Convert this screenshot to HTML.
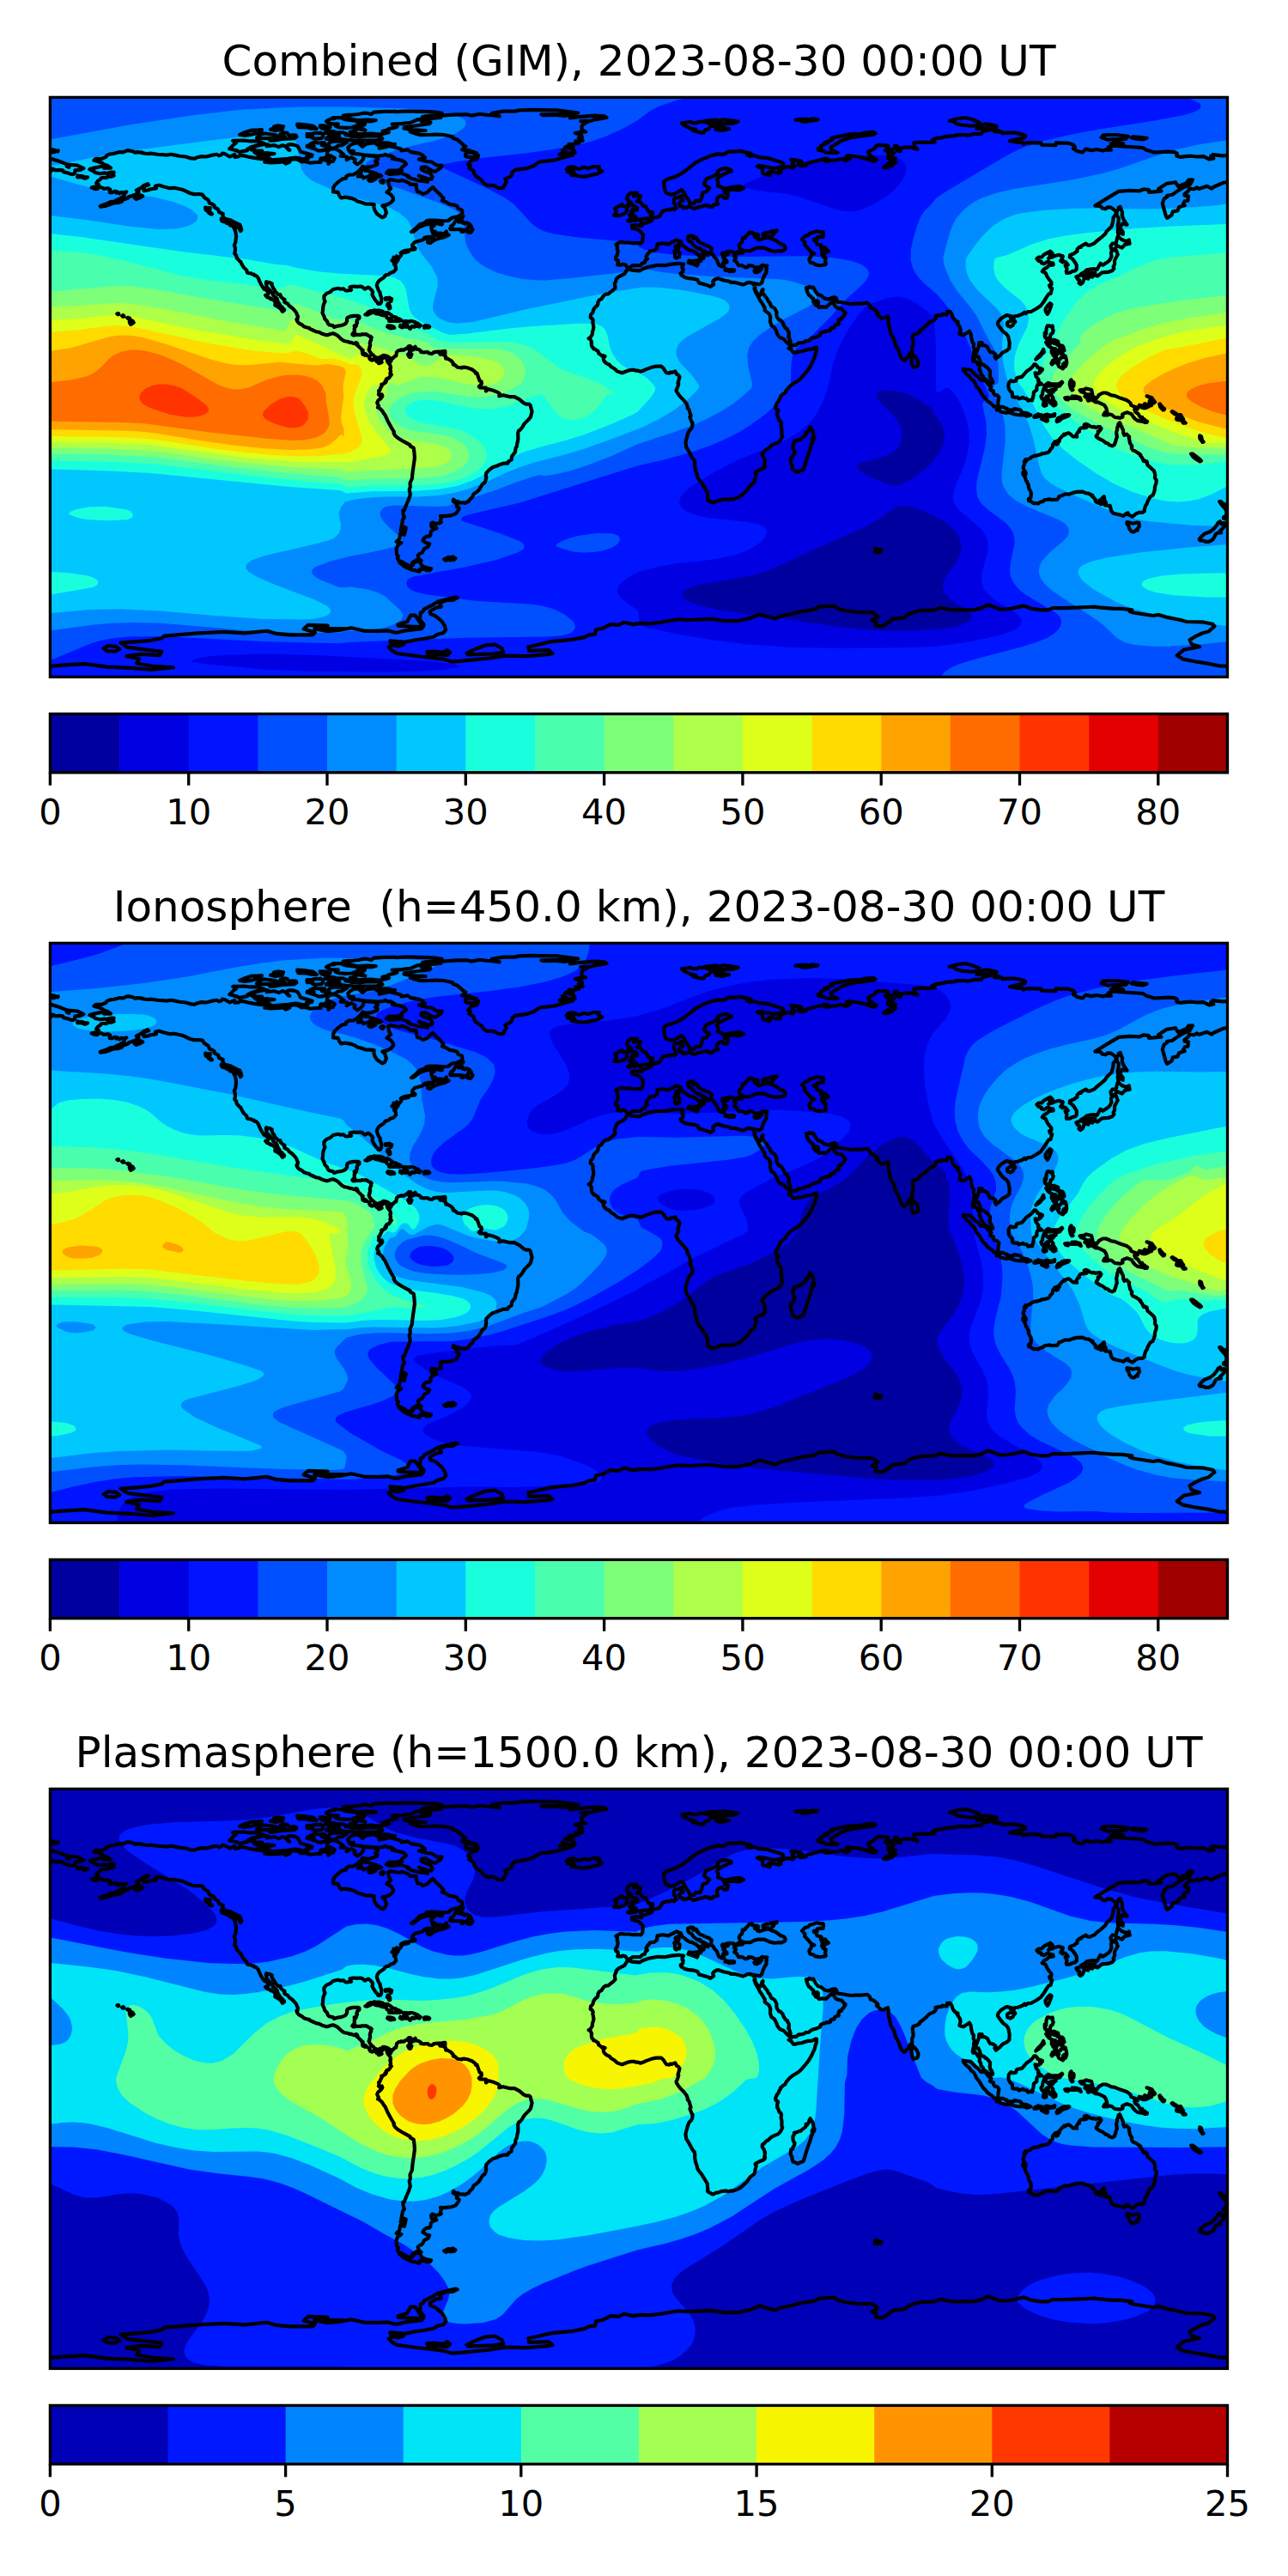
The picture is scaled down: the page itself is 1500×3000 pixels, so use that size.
<!DOCTYPE html>
<html><head><meta charset="utf-8"><title>TEC maps</title>
<style>html,body{margin:0;padding:0;background:#fff}svg{display:block}text{font-family:"DejaVu Sans","Liberation Sans",sans-serif;fill:#000}.t{font-size:50px;text-anchor:middle}.k{font-size:41.67px;text-anchor:middle}.f{fill:none;stroke:#000;stroke-width:3.33;stroke-linejoin:miter}.c{fill:none;stroke:#000;stroke-width:4.17;stroke-linejoin:round;stroke-linecap:round}.tk{stroke:#000;stroke-width:3.33}</style></head><body>
<svg width="1500" height="3000" viewBox="0 0 1500 3000">
<rect width="1500" height="3000" fill="#fff"/>
<defs><clipPath id="cp"><rect x="58.4" y="113.4" width="1371.1" height="675.0"/></clipPath>
<g id="coast"><path class="c" d="M730.8,312.6 735.8,314.6 745.1,315.3 749,313 755.5,310.7 766,308.8 774.1,309.2 781.8,307.6 790.3,306.8 793,307.2 796.1,307.6 794.5,310.3 794.5,312.2 795.7,313 795.3,316.5 792.6,318.4 793.4,320.4 796.5,322.3 798,323.1 802.7,324.2 807.3,324.6 812.3,326.1 814.2,329.6 817.7,330.4 823.1,331.9 827.4,333.9 831.2,331.2 830.1,328.1 831.2,326.5 834.3,324.6 836.6,324.2 843.2,326.5 849.8,327.7 850.9,328.9 856,328.9 859.8,330 865.2,331.6 868.3,330.4 869.9,329.2 873.3,328.9 876,329.6 877.2,331.2 878.4,330M879.5,335 878.4,335.8 879.9,340.1 882.2,343.9 885.3,350.1 886.9,352 890.7,358.6 890.7,361.7 895.4,365.2 896.1,365.9 897.3,369.8 896.9,374.4 898.4,379.1 901.9,381.4 904.2,386 905.4,389.5 908.1,393 912.7,394.9 917,399.5 920.1,401.8 920.8,403 920.8,404.7 918.5,405.7 920.1,406.5 921.6,407.3 923.9,410.7 925.9,410.7 929.7,409.6 933.6,409.2 937.1,408 939,407.6 940.5,406.9 942.5,406.9 944,406.9 947.9,405.7 949.4,404.6 951,404.6 951,405.7 950.6,410 949.8,411.1 949,415.4 947.1,419.6 944.8,424.6 941.3,430.4 937.8,434.7 933.6,439.7 929.7,443.2 923.9,446.7 920.1,449.7 915.8,454.4 915,456.3 914.3,457.5 911.6,459 910.4,460.6 909.3,460.9 908.5,463.6 907.3,465.2 906.6,467.5 905,469.1 903.1,473.7 903.5,476 905.8,477.2 906.2,478.3 905,480.6 905.4,481.8 905,483.7 906.2,486 907.7,489.9 909.3,490.7 910,492.6 909.6,496.5 910.4,499.6 910.4,505.7 911.2,507.7 910,510.4 908.5,513.1 906.2,515.4 902.3,516.9 898.1,518.9 893.8,523.1 892.3,523.5 889.6,526.6 888,527.4 887.6,530.1 889.6,533.2 890.3,535.1 890.3,536.3 891.1,536.3 890.7,540.1 890.3,541.7 891.1,542.4 890.7,544 888.8,545.5 885.7,546.7 881.1,549 879.5,550.2 879.9,551.7 880.7,552.1 880.3,554 879.5,557.1 879.1,560.2 878,562.1 875.3,564.1 874.5,564.5 872.9,566.4 871.8,568.3 869.9,571 865.2,575.3 862.5,577.6 859.8,579.1 855.6,580.7 853.6,581.1 853.3,581.8 850.9,581.4 849,582.2 844.8,581.4 842.4,581.8 840.9,581.8 836.6,583.4 833.6,583.8 831.2,585.3 829.3,585.3 827.8,584.1 826.6,583.8 824.7,582.2 824.7,582.6 823.9,581.8 824.3,579.5 823.9,576 823.9,573.3 821.6,569.5 819.7,566.4 819.7,566.4 816.6,561.4 813.9,558.3 812.3,555.6 811.5,551.7 810.4,549 809.2,543.2 809.2,538.6 808.8,536.3 807.3,534.7 805.4,531.6 803,527 800.7,523.1 799.2,520.8 798.8,517.7 798.4,515.4 799.2,511.9 800.3,508.4 800.7,506.5 801.9,503 802.7,501.5 805,499.2 806.1,497.2 806.5,494.5 806.5,492.2 805.4,491.1 803.4,485.7 803.4,485.5 804.6,484.1 803.4,480.3 802.7,477.5 800.7,475.2 801.1,474.5 800.7,473.3 799.6,470.2 796.5,466.3 792.6,462.4 789.9,459 787.6,455.1 787.6,454 788.4,452.8 789.5,449.7 790.3,447 789.5,446.3 790.7,442 791.5,438.9 789.9,436.6 788,435.8 787.2,433.9 786.4,433.5 786.4,432.4 782.6,433.9 781,433.5 779.5,434.7 776.4,434.3 774.5,432 772.9,429.3 770.2,426.6 767.5,426.6 764,426.6 760.9,427.3 757.9,428.1 751.7,430.4 749.4,431.6 746,432.7 742.4,431.6 740.9,431.7 738.2,430.8 735.8,430.8 731.2,431.6 728.5,432.7 724.6,434.3 723.9,433.9 722.8,433.9 718.8,432.4 715.4,429.3 711.9,427.3 709.6,424.6 708.4,424.3 705.7,422.7 703.8,420.8 703,419.2 702.6,416.5 704.6,415 702.6,414.2 700.7,414.2 699.1,412.7 698.4,412.3 697.2,411.5 696.8,409.6 696.4,408.8 695.3,408.4 693,406.5 691.4,406.5 690.7,405.3 690.7,404.7 689.5,403.8 689.1,403 688.7,399.9 689.1,398.4 687.6,395.3 685.6,394.1 687.2,393.4 689.1,390.6 689.9,388.7 689.9,386.4 690.7,384.5 691.4,381 690.7,377.1 690.3,375.2 690.7,373.3 689.9,371.3 687.6,369.8 688.1,366.3 689.5,365.2 690.7,363.2 690.7,362.1 691.9,359.4 694.1,356.7 695.3,356.3 696.4,354 696.4,352 698,349.3 700.3,348.2 703,344.3 704.9,342.8 708.4,342.4 711.5,339.7 713.4,338.5 716.5,335.4 715.8,330.4 717.3,327.3 717.7,325 720,322.7 723.9,320.7 727,319.2 729.7,315.3 730.8,312.6M944.8,499.2 945.9,500.7 947.1,503.4 947.5,508.1 948.6,509.6 948.3,511.5 947.5,512.7 946.3,510.4 945.6,511.5 946.3,514.6 945.9,516.2 944.8,516.9 944.4,520.2 942.9,524.7 940.9,530.1 938.6,537.4 937.1,542.8 935.5,547.1 932.4,548.2 929,549.8 926.6,548.6 923.5,547.5 922.8,545.5 922.4,542 920.8,539 920.8,536.3 921.2,533.2 923.2,532.8 923.2,531.2 925.1,528.5 925.5,525.8 924.3,524.1 923.5,521.6 923.4,518.1 924.7,516.2 925.1,513.5 927,513.5 929.3,512.6 930.9,511.9 932.4,511.9 934.7,509.6 937.8,507.3 939,505.4 938.6,503.8 940.2,504.2 942.1,501.5 942.5,499.2 943.6,497.2 944.8,499.2M454.7,417.3 457,417.7 459.7,415 461.2,414.6 462,410 464.3,408 466.6,408 467,407.3 470.1,407.6 473.2,405.7 474.8,404.7 476.3,403 477.8,403 479,404.2 478.2,405.3 475.6,406.1 477.1,408.5 477.1,410.7 475.1,412.7 476.7,415.8 478.2,415.8 479.4,412.7 477.8,411.5 477.8,408.6 482.5,406.9 482.1,405.3 483.6,403.8 484.8,406.5 487.5,406.9 490.2,408.8 490.2,410 493.7,410.3 497.9,410 499.9,411.5 502.9,411.9 505.3,410.7 505.3,410 509.9,409.6 514.5,409.6 511.4,410.7 512.6,412.7 515.7,412.7 518.8,414.6 519.2,417.7 521.1,417.7 522.6,418.5 525.3,420 527.7,422.7 527.7,424.6 529.2,424.6 531.5,426.6 533.1,427.8 537.7,428.5 538.1,427.9 541.2,427.7 545.2,428.5 546.6,429.3 549.3,430 553.5,433.1 553.9,434.7 555.5,434.7 556.2,436.6 558.6,443.6 560.6,444.3 560.9,447 557.8,450.1 558.9,451.3 565.9,451.7 565.9,455.5 569,453.2 573.6,454.4 580.2,457.1 582.1,459 581.3,461.3 586,460.2 593.3,462.1 599.2,462.1 604.9,465.2 609.9,469.4 612.6,470.6 616.1,470.6 617.7,472.1 618.8,476.8 619.6,479.1 618,485.6 616.1,488 610.7,493.4 608,498 605.3,501.1 604.1,501.5 603.2,504.2 603.4,511.5 602.2,517.3 601.8,520 600.7,521.6 599.9,526.6 596,531.6 595.6,535.5 592.2,537.4 591.4,539.6 587.1,539.6 581.3,541.3 578.3,542.8 574,544 569.8,547.1 566.3,550.9 565.9,553.6 566.3,556 565.5,559.8 564.7,561.7 562,563.7 557.8,570.6 554.3,573.7 551.6,575.3 550.1,579.1 547.4,581.4 545.8,583.8 541.6,585.9 538.5,585.3 536.5,585.7 533.1,583.8 530.4,584.1 528.1,581.8 527.7,583.8 532.7,587.2 531.9,589.9 534.6,591.5 534.2,593.4 530.8,598.4 525,600.4 517.2,601.1 513,600.8 513.8,603.1 513,606.2 513.8,608.1 511.4,609.3 507.2,610 503.7,608.5 502.2,609.6 502.6,613.5 505.3,614.7 507.2,613.1 508.4,615.4 504.9,616.6 501.8,618.9 501.4,622.8 500.2,624.7 496.8,624.7 493.7,627 492.5,629.7 496.4,632.4 500.2,633.2 498.7,636.7 494.1,639 491.7,643.6 488.3,645.2 486.7,646.7 487.9,651 490.6,652.9 488.7,652.9 485.2,652.1 480.2,655.2 479.4,658.7 477.8,659.1 473.2,657.5 469,654.8 464.3,652.9 462.8,650.2 464,647.9 462,645.6 461.6,639 463.2,635.1 467.4,632 461.6,630.9 465.1,627.8 466.3,621.2 470.9,622.8 472.8,614.7 470.1,613.5 469,618.5 466.6,617.7 467.8,612.3 469,605 470.9,602.7 469.7,598.8 469.3,594.6 470.9,594.2 473.2,588 475.9,581.8 477.8,576 476.7,570.2 477.8,567.2 477.5,562.5 479.8,557.5 480.5,550.2 481.7,542 482.9,533.6 482.5,527.4 481.7,521.6 477.8,519.6 477.5,518.1 470.1,514.2 463.2,510 460.1,507.3 458.5,504.2 458.9,503 455.8,498 452,491.1 448.5,483.3 446.9,481.4 445.4,478.7 442.7,476 440,474.5 441.1,472.9 439.2,469.1 440.4,466.3 443.5,464 445.4,461.3 444.7,459.4 443.1,461.3 440.9,459.4 441.5,458.5 441.1,455.1 442.3,454.4 443.1,452.1 444.6,449.4 444.2,447.8 446.6,447 448.9,445.5 448.5,444.3 450,443.9 449.6,442 450.8,440.9 452.7,440.5 454.3,438.2 455.8,436.2 454.3,435.1 455.1,432.7 454.3,429.3 455.1,428.5 454.3,425 452.7,423.1 453.1,421.2 454.7,421.5 455.4,420.4 454.3,418.1 454.7,417.3M488.7,654.1 489.8,656 491.7,659.1 496.8,661.4 502.2,662.2 500.6,664.1 496.8,664.5 495,662.9 492.5,662.9 488.7,662.9 488.7,665.6 486.3,665.3 483.4,664.1 479.4,663.7 474.4,661.4 470.5,659.3 465.1,654.8 468.6,655.6 474,658.3 479,659.8 480.9,657.9 482.1,655.2 486,653.7 488.7,654.1M517.2,651.4 521.9,649 525,649.4 527.3,648.3 530.4,650.2 529.2,651.7 524.2,652.5 522.3,651.4 519.2,652.9 517.2,651.4M452.7,423.1 451.6,421.9 450.8,419.8 451.6,418.8 450.8,418.5 450,417.3 448.1,416.1 446.2,416.5 445.4,417.7 443.9,418.8 443.1,418.8 442.7,419.6 444.6,421.9 443.5,422.3 443.1,422.7 441.1,423.1 440.4,420.8 440,421.5 438.8,421.2 438.1,419.6 436.5,419.2 435.4,418.8 433.8,418.8 433.4,419.6 431.1,418.5 430.3,417.3 430.7,416.9 430.7,415.8 429.6,415 428,414.2 426.9,413.8 426.5,412.7 425.3,411.9 425.7,413 424.9,413.8 424.2,413 422.6,412.7 422.2,411.9 422.2,410.7 422.6,409.2 421.8,408.8 422.6,408 419.5,405.3 416.8,402.6 414.9,401.1 415.3,400.3 416,401.1 416.4,400.8 415.7,399.5 414.5,399.1 414.1,400.3 411.8,399.9 410.6,399.5 408.7,398.8 406.8,398.8 405.6,398 401.4,397.2 399.4,396.4 397.5,394.9 392.9,390.6 390.9,389.5 387.9,388.3 385.5,388.7 382.4,389.9 380.5,390.3 377.8,389.5 375.1,388.7 371.6,386.8 368.5,386.4 364.3,384.5 360.8,382.9 360,381.8 357.7,381.5 353.9,380.2 352.3,378.7 348.1,376.4 346.1,374 345.4,372.1 346.5,371.7 346.1,370.6 346.9,369.4 346.9,368.2 345.8,366.3 345.4,364.8 344.2,362.8 340.7,359 336.9,356.3 334.9,353.6 331.5,352 331.1,351.3 331.5,348.9 329.5,347.8 327.2,345.8 326.4,343.1 324.1,343.1 321.8,340.8 320.3,339.1 319.9,337.7 317.9,335 316.4,331.9 316.8,330.4 313.7,328.9 312.5,329.2 310.2,328.1 309.8,329.6 310.2,331.6 310.6,334.3 312.2,336 314.9,338.5 315.6,339.7 316,339.9 316.8,341.2 317.3,341.2 317.9,343.5 319.1,344.7 320.3,345.8 322.6,347.8 323.7,351.6 324.9,353.2 326.1,355.1 326.1,357 328,357 329.5,359 331.1,360.5 331.1,361.3 329.1,362.8 328.8,362.8 327.6,360.5 325.1,358.2 322.2,356.3 320.3,355.5 320.6,352.4 319.9,350.5 317.9,349.3 315.2,347.4 314.9,348.2 314.1,347 311.4,346.2 309.1,343.9 309.5,343.5 311,343.9 312.5,342.4 312.5,340.4 309.8,337.7 307.5,336.6 306,334.3 304.4,331.9 302.9,328.9 301.3,325.4 300.6,323.4 298.2,321.1 296.3,320.7 295.9,319.6 293.6,319.2 292.5,318.4 288.6,318 287.8,317.3 287.4,314.9 283.6,311.1 280.5,305.7 280.5,304.9 278.7,303.7 275.8,300.5 275.1,297.2 273.1,295.3 273.9,292.2 273.9,288.7 272.8,285.6 274.3,282.1 275.1,275.2 274.3,269.8 273.1,266.7 272,264.7 272.4,264 278.2,265.5 280.1,269 281.3,267.8 280.5,264.7 279.3,261.6 278.7,261.6 271.2,257.9 268.5,256.2 261.6,254.7 259.3,251.2 259.8,248.9 255,247 254.2,243.9 249.6,241.2 249.6,239.2 247.3,237.7 243.9,236.5 242.6,233.1 238,230 235.7,226.5 232.2,226.1 226,226.1 221.4,225 213.3,221.1 209.8,220.3 202.8,218.8 197.6,219.2 190.1,217.2 185.5,215.7 181.2,216.5 182,219.2 179.7,219.6 175.4,220.3 172,221.5 167.7,222.3 166.9,220.3 168.9,216.5 173.1,215.3 172,214.1 166.9,216.5 164.2,218.8 158.8,221.5 161.5,223.4 158,226.5 153.8,228 149.9,229.2 148.8,230.8 143,232.7 141.8,234.7 137.2,236.2 134.5,236.2 131,236.9 127.1,238.5 123.7,239.6 117.1,240.8 116.7,240 121,238.5 124.4,237.3 128.7,235 133.3,234.6 135.3,233.1 140.7,230.8 141.4,230 144.5,228.4 144.9,225.7 147.2,223.4 142.6,224.6 141.4,223.8 139.1,225.3 136.8,223.4 135.7,224.6 134.1,222.6 130.2,224.2 128,224.2 127.5,221.9 128.3,220.7 126,219.2 121,219.9 117.5,218 115.2,217.2 114.8,214.9 112.1,213.4 113.6,211.1 116.7,209.1 117.9,207.2 121,206.8 123.7,207.2 126.8,205.6 129.9,205.6 132.6,204.5 131.9,202.9 129.9,202.2 132.6,200.6 130.2,200.6 126,201.4 124.8,202.6 122.1,201.4 116.5,202.2 110.9,201 109.4,199.5 104.4,197.1 109.8,195.6 118.3,193.7 121.4,193.7 121,195.6 129.1,195.6 126,193.3 121.4,191.7 118.7,189.8 114.8,188.3 109.4,186.7 111.7,184.8 118.7,184.8 123.3,182.9 124.4,180.9 128.3,179.4 132.2,179 139.5,177.1 143,177.5 148.8,175.1 154.6,176.3 157.7,177.8 159.2,177.1 165.8,177.5 165.4,178.2 171.6,179 175.4,178.6 183.5,179.8 190.9,180.2 194,180.6 199,179.8 204.8,180.9 209.1,181.7 216.4,182.5 222.5,184.4 226.4,184.8 229.9,183.2 234.5,182.1 240.3,182.5 246.1,180.9 252.3,179.8 255,181.3 257.7,180.5 258.9,178.6 261.6,179 267.7,182.5 273.1,179.8 273.5,182.9 278.2,182.1 279.7,180.9 284.3,181.3 290.5,182.9 299.4,184.4 304.8,185.2 308.7,184.8 313.7,186.7 308.3,188.7 315.2,189.4 325.7,189 329.1,188.3 333,190.6 337.3,188.7 333.4,187.1 335.7,185.6 340.5,185.6 343.4,185.2 346.9,185.9 350.8,188.3 355,187.9 361.6,189.8 367.8,189 373.6,189 372.8,186.7 376.3,185.9 382.4,187.5 382.4,191 384.8,187.9 387.9,187.9 389.8,184 385.5,181.7 380.9,180.2 381.3,175.9 385.9,173.2 390.9,173.6 394.8,175.5 400.2,179.8 396.7,181.7 404.1,182.5 403.7,186.3 409.1,183.2 413.7,185.9 412.6,188.7 416,191.4 420.3,188.7 423,185.2 423.4,180.9 428.8,181.3 434.6,181.7 439.6,183.6 440,185.6 437.1,187.9 439.6,189.8 439.2,191.7 431.9,194.4 426.5,194.8 422.2,193.7 421.1,195.6 417.6,199.1 416.4,200.6 411.8,203.3 406.4,203.7 403.3,205.3 402.9,207.7 398.7,208.4 393.6,212.2 389.8,215.7 388.2,218.8 387.9,223.4 393.6,223.8 395.2,227.7 397.1,230.4 402.5,229.6 409.9,231.1 413.7,232.7 416.4,234.6 421.1,235.8 425.3,237.3 431.5,237.7 435.7,238.1 435.4,241.2 436.5,245 439.2,249.3 445,253.2 448.1,252 450,247.7 448.1,242 445.4,239.6 451.6,238.1 455.8,235.4 458.1,232.7 457.8,230 455.1,226.5 450.4,223.8 455.1,219.6 453.1,216.1 452,210.3 454.7,209.1 461.2,210.3 465.1,210.7 468.6,209.9 472,211.1 476.7,213.4 477.8,214.9 484.8,214.9 484.8,218.4 486,223.2 489.4,223.8 492.5,226.1 497.9,223.8 501.8,219.6 504.1,218 507.2,221.5 512.2,226.1 516.5,230.9 514.9,233.5 519.9,235.4 523.4,237.7 529.7,238.9 532.3,240 533.8,243.1 536.5,243.9 538.1,245 538.5,249.7 535.8,250.8 533.1,252.4 526.5,253.5 521.9,257 515.3,257.4 506.8,256.6 501,256.6 497.2,257 494.1,259.7 489,261.3 483.4,266.7 479,270.1 482.1,269.4 488.3,264.4 496.4,261.3 502.2,260.9 505.6,262.8 502.2,265.1 503.3,269.4 504.5,272.5 509.5,274.4 516.1,273.6 519.9,269.4 520.3,272.1 522.6,273.6 518,275.9 509.1,278.3 505.6,279.8 501,282.9 498.3,282.5 497.9,279 504.9,275.9 498.7,275.9 494.4,276.7 495,277.9 491,279.8 486.7,281 482.9,282.1 480.9,284.4 480.2,285.2 480.2,287.5 481.3,289.5 482.9,289.5 482.5,288.3 483.6,289.1 483.4,290.2 480.9,290.6 479,290.6 475.9,291.4 472,291.8 469,292.9 474.8,292.9 475.9,292.9 470.5,294.1 467.9,294.1 468,293.3 466.6,294.5 468,294.9 467,297.6 464.3,300.7 464,299.5 463.2,299.5 462,298.3 462.8,300.4 463.6,301 463.6,302.6 462.4,304.1 460.5,307.2 460.1,306.8 461.2,304.5 459.3,303 458.5,299.5 458.1,301.4 458.9,303.7 456.3,303.4 458.9,304.5 458.9,308.1 460.2,308.4 460.5,309.5 461.2,313.4 458.5,316.5 454.7,317.7 452,320 450,320 448.1,321.5 447.7,322.7 443.5,325.4 441.1,327.3 439.6,329.6 438.8,332.3 439.6,335 440.8,338.1 442.7,340.8 442.7,342.8 444.2,347 444.2,351.3 443.1,353.6 441.9,354 440,353.6 439.6,352 438.1,350.9 436.1,347.8 434.2,344.7 433.4,343.1 434.2,340.4 433.4,338.5 430.3,335.4 428.8,334.6 424.9,336.6 424.2,336.2 422.2,334.3 419.9,333.5 415.7,333.9 412.2,333.5 409.1,333.9 407.5,334.3 408.3,335.4 408.3,337 409.1,337.7 408.3,338.1 406.8,337.7 405.2,338.5 402.5,338.5 399.8,336.2 396.3,336.6 393.6,335.8 391.3,336.2 387.9,337 384.4,340.1 380.5,341.6 378.6,343.5 377.4,345.1 377.4,347.8 377.8,349.7 378.6,350.9 377,354.3 376.3,357 375.9,362.5 375.5,364.4 376.3,366.3 377.4,368.2 378.2,371.3 380.9,374 381.7,376.4 383.2,378.3 387.5,379.1 389,381 392.5,379.8 395.2,379.4 398.3,378.7 400.6,377.9 402.9,376.4 404.1,374 404.1,371 404.8,369.8 407.5,368.6 411.8,367.9 414.9,367.9 417.2,367.9 418.4,368.6 418.4,370.6 416,372.5 415.3,375.2 416,375.6 415.3,377.5 414.5,380.2 413.3,379.4 412.6,379.4 412.6,379.8 413.3,380.2 413.3,381 412.6,382.9 413,383.3 412.6,384.9 413,387.2 412.2,387.2 411.4,387.9 411,388.3 410.3,389.5 411.4,390.3 411.8,389.5 413,390.3 413.3,390.3 414.1,389.5 415.3,389.5 415.7,389.9 416,389.9 418,389.9 419.9,389.9 421.1,389.5 421.5,389.1 422.6,389.3 423.8,389.5 424.5,389.5 425.4,389.1 427.2,389.5 427.6,389.9 428.8,390.6 429.9,391.4 431.5,391.8 432.7,393 432.3,393.4 431.9,394.1 432.3,395.7 431.5,396.9 431.1,398.4 430.7,400.3 431.1,401.1 431.1,403 430.7,403.4 430.3,404.9 430.3,406.1 429.6,406.9 429.9,408 430.3,408.8 431.5,410.7 433,412.3 435,413.8 436.1,415.4 436.1,416.2 437.7,416.3 438.1,416.1 439.2,416.9 441.1,416.5 442.7,415.8 445,415 446.2,413.8 448.5,414 448.1,414.4 450.4,414.6 452,415.4 453.5,416.5 454.7,417.3M276.6,263.6 274.7,264 268.1,262.4 267,260.9 263.7,259.7 263.1,258.6 258.9,257.8 257.7,255.9 257.7,254.7 261.9,255.5 264.3,256.2 267.7,256.6 269.3,258 271.2,259.7 275.1,261.3 276.6,263.6M239.2,241.6 241.1,242.3 244.9,242 243.8,246.2 246.9,249.3 245.3,249.3 243,247.7 241.9,245.8 239.7,244.7 239.2,242.7 239.2,241.6M162.7,230.4 158.8,231.9 156.9,230.8 156.1,228.8 159.6,227.7 161.9,227 164.2,227.3 166.2,228.4 162.7,230.4M114,219.6 111.7,220.1 109.4,219.6 106.7,218.4 110.5,217.6 113.6,218 114,219.6M90.5,204.5 92.8,205.3 95.1,204.9 98.2,206 102,206.4 101.7,206.8 99,207.7 95.9,206.8 94.3,206 90.8,206.4 90.1,206 90.5,204.5M536.9,255.1 534.2,258.6 536.9,257 539.3,258.2 538.1,259.3 541.6,260.5 543.1,259.3 547,260.9 545.8,263.6 548.5,262.8 549.1,264.7 550.5,267.4 548.5,270.5 547,270.9 544.3,270.1 545.2,267.1 544.3,266.3 539.6,269.8 537.3,269.8 540,267.8 536.2,267.1 532.3,267.1 524.6,267.1 524.2,265.9 526.5,264.4 525,263.6 528.1,261.3 531.9,255.1 534.6,252.8 537.7,251.6 539.6,251.6 538.9,252.8 536.9,255.1M507.6,270.9 510.7,271.7 514.1,271.7 512.2,273.2 510.7,273.4 506,271.7 504.9,270.5 506.4,269.4 507.6,270.9M504.5,258.2 505.6,257.9 510.7,258.9 514.9,260.5 514.9,261.3 513,261.3 508,260.1 504.5,258.2M435.7,361.3 439.2,361.7 442.3,361.7 445.8,362.8 447.3,364.4 451.2,364 452.4,364.8 455.8,367.1 458.1,369 459.3,369 461.6,369.8 461.2,371 464.3,371 467,372.5 466.6,373.5 464.1,374 461.6,374 458.9,373.8 453.1,374 455.8,372.1 454.3,371 452,371 450.4,369.8 449.6,367.5 447.3,367.5 443.9,366.7 442.7,365.9 437.7,365.2 436.1,364.4 437.7,363.6 433.8,363.2 431.1,365.2 429.6,365.2 429,366.3 427.2,366.7 425.4,366.3 427.6,365.2 428.4,363.6 429.9,362.8 431.9,362.1 435,361.7 435.7,361.3M470.9,374 473.2,374 476.7,374.8 477.1,374 480.2,374 482.5,375.2 483.4,375 484,376.4 486.3,376.4 486,377.5 487.9,377.6 489.8,379.1 488.3,380.6 486.3,379.8 484.8,379.8 483.4,379.8 482.9,380.6 481.3,380.6 480.5,379.8 479.4,380.2 477.8,382.9 476.7,382.2 476.7,381.4 474,380.6 469.9,380.6 468.2,381.4 465.9,380.2 466.3,378.7 472.8,379.8 474.4,378.7 472.4,377.1 472.4,375.6 470.1,375.2 470.9,374M453.9,379.4 456.6,379.8 458.5,380.6 459.3,381.8 456.6,381.8 455.4,382.5 453.1,381.8 451.2,380.6 451.6,379.4 453.1,379.4 453.9,379.4M497.5,379.4 499.5,379.8 500.2,380.6 499.5,381.5 496.4,381.5 494.1,381.8 494.1,379.8 494.4,379.4 497.5,379.4M515.3,409.2 517.6,408.8 518.4,408.8 518.4,411.9 514.9,412.3 514.3,411.9 515.3,410.7 515.3,409.2M454.3,359 453.1,359.4 452.3,357 450.8,355.9 451.6,353.6 452.7,353.6 454.3,357 454.3,359M453.1,348.2 448.9,348.9 448.6,347.4 450.4,347 452.9,347.4 453.1,348.2M456.2,348.2 455.4,350.9 454.7,350.5 455.1,348.6 453.1,347 453.1,346.6 456.2,348.2M153,377.1 152.3,377.9 151.5,377.1 151.5,376.4 150.7,374.8 151.7,373.7 151.5,372.9 151.5,372.5 154.2,373.7 154.6,374 155.7,375.6 154.2,376.7 153,377.1M150.7,371.3 149.5,371.3 148.8,370.6 148.4,370.2 148.8,369.8 149.9,370.2 151.1,370.6 150.7,371.3M144.5,368.6 143,368.6 142.2,367.9 143.4,367.1 143.8,367.3 144.5,368.6M138.3,366 137.6,366.3 136.4,365.5 137.2,365.2 138,365.2 138.3,366M878.4,330 884.1,331.2 886.1,330.4 887.2,329.2 886.9,328.9 888,326.9 888.6,324.2 889.2,323.1 890.7,320 892.6,317.3 892.3,314.2 893,312.6 891.9,310.7 893.4,309.3 891.1,309.5 887.6,308.8 884.9,311.1 879.1,311.5 876,309.5 871.8,309.2 871,310.7 868.3,311.5 864.5,309.2 860.2,309.2 858.1,305.5 855.2,303.4 857.1,300.3 854.8,298.3 859,294.9 864.8,294.5 866.4,291.8 865.6,291.4 864.8,292.4 860.2,292.5 858.7,293.7 855.6,295.8 854.2,294.1 854.3,293.3 851.7,293.1 849.8,292.9 845.1,293.7 847.8,296 845.9,296.6 843.6,296.6 841.7,294.5 840.9,295.3 841.7,297.6 843.8,299.5 842.3,300.4 844.4,302.2 846.3,303.4 846.5,305.5 842.8,304.5 844,306.5 841.7,306.8 843.2,310.3 840.5,310.3 837.4,308.8 835.9,305.7 835.1,303 833.6,301 831.6,299.1 831.4,298 830.8,297.6 830.7,296.8 828.5,295.4 828.1,293.7 828.5,291 828.9,289.8 828.5,289.1 827.8,288.9 826.6,287.5 824.9,286.8 821.2,285.4 818.9,284.1 815.4,282.9 812.3,280.2 813.1,279.8 811.2,278.3 811.2,276.7 808.8,276.3 807.5,277.9 806.5,276.7 806.5,275.2 807.3,274.8 804.2,274.4 801.1,275.6 801.5,277.5 801.1,278.6 802.3,280.6 805.7,282.5 807.7,285.6 811.9,288.8 815,288.8 816.2,289.8 815,290.6 818.5,291.8 821.2,292.9 824.7,294.9 825.1,295.6 824.3,297.2 822,295.3 818.9,294.9 816.9,297.2 820,298.7 819.5,300.7 817.7,301 815.8,304.2 814.2,304.5 814.2,303.4 815,301.2 815.8,300.4 814.2,298.3 813.1,296.2 811.5,295.6 810.4,294.1 808.1,293.3 806.1,291.8 803.4,291.6 800.3,289.8 796.9,287.1 794.2,285.2 793,281.3 791.1,280.8 788,279.4 786,280.2 783.9,281.7 782.2,282.1 778.7,284.4 771.4,283.3 765.6,284.4 765.2,286.8 765.3,289.1 761.7,291.8 756.7,292.5 756.3,293.7 754,296 752.4,299.1 754,301.4 751.7,303 750.9,305.7 748.2,306.5 745.5,309.2 740.5,309.2 736.6,309.2 734.3,310.7 732.7,312.1 730.8,311.7 729.7,310.3 728.5,308.4 724.8,307.6 723.1,308.8 721.2,308.1 719.2,308.4 720,305.5 719.6,303 717.7,302.6 716.9,301.4 717.3,298.7 718.7,297.4 718.9,295.6 719.6,293.3 719.6,291.8 718.9,290.6 718.7,289.1 718.9,286.4 717.3,284.7 722.8,281.9 727.5,282.5 732.7,282.5 737,283.3 740.1,282.9 746.3,283.3 748.2,281 749,273.2 745.1,269 742.2,267.1 736.2,265.7 735.8,262.8 740.9,262 747.4,263.2 746.3,258.6 749.8,260.5 758.6,257.4 759.8,254.1 763.3,253.3 766.4,252.6 768.3,251.6 771.8,245.8 777.2,244.3 780.3,244.3 781,243.5 784.1,243.3 784.9,244.3 787.6,242.3 786.8,240.8 786.4,238.6 784.9,236.5 784.9,232.7 785.7,230.4 786.4,230.4 789.9,230 791.5,229 794.5,228 794.2,230 793.2,231.1 793.8,232.3 795.7,232.7 794.9,234.2 793.8,233.8 790.9,236.5 791.8,238.6 791.8,240 795.9,240.8 795.7,242.3 799.8,241.6 801.9,240.4 806.3,242 808.1,243.1 810.8,242.1 816.9,240.4 821.6,239.1 825.4,239.6 825.8,240.8 829.7,240.8 830.5,238.9 835.9,237.7 834.9,234.5 835.1,231.5 837,229.2 840.5,227.9 843.6,230.7 846.7,230.6 847.5,227.7 847.8,225.3 846.5,225.7 844,224.6 843.6,222.3 848.6,221.1 853.6,220.7 857.7,221.3 861.7,221.1 866,219.2 862,217.2 855.2,217.6 848.2,218.9 842.1,219.7 839.7,217.6 835.9,216.5 836.6,212.6 834.9,209.1 836.6,206.8 840.1,204.5 849,200.2 851.7,199.5 851.3,197.9 845.9,196 839.3,197.1 835.5,199.7 836.3,202.2 830.1,205.3 822.5,208.5 819.7,214.1 822.4,216.8 826.2,218.9 822.7,223.2 818.5,224.2 817.1,230.6 815,234.2 810.4,233.8 808.1,236.9 803.6,236.9 802.3,233.5 799.2,229.2 796.2,223.4 793.8,221.1 786,225.7 780.8,226.6 775.6,224.6 774.1,220.3 772.9,211.6 776.4,209.1 786.6,205.8 794.2,201.8 801.5,196.4 810.8,189 816.9,185.9 827.8,181.3 836.3,179.4 842.5,179.8 848.4,176.6 855.6,176.7 862.5,175.9 874.5,178.8 869.5,179.8 873.7,182.1 877.6,180.9 884.1,183.2 894.6,184.2 909.3,188.7 912.2,190.2 912.3,192.9 908.2,194.8 901.9,196 884.5,192.9 881.8,193.7 888,196.4 888.4,202.2 893.4,203.3 896.5,204.3 896.9,202.6 894.6,200.6 897.3,199.5 906.6,201.8 909.6,200.6 907.3,197.9 916.2,194.1 919.8,194.4 923.4,195.6 925.5,192.9 922.4,190.8 924.3,188.5 921.4,185.9 932.2,187.3 934.4,189.4 929.7,189.8 929.7,192.1 932.6,193.3 938.6,192.5 939.4,190.2 947.5,188.3 961,184.8 964.1,185.2 960.2,187.5 964.9,187.9 967.6,186.7 974.9,186.3 980.7,184.8 985,187.1 989.6,184.8 985.5,182.5 987.5,181.1 998.9,182.5 1004.3,183.6 1018.2,187.9 1020.9,185.9 1017,184 1016.6,182.9 1012,182.5 1013.5,180.9 1011.2,177.8 1011.2,176.6 1018.2,173.2 1020.9,169.7 1023.6,168.8 1034,169.7 1034.8,172 1030.9,175.1 1033.6,176.3 1034.8,179 1034,184.3 1038.3,186.7 1036.3,189.4 1029,194.8 1033.2,195.2 1034.8,194.1 1039,192.9 1040.2,191 1043.5,189 1041.3,187.1 1042.9,184.4 1038.6,184.1 1037.9,182.1 1041,178.2 1035.9,175.1 1042.9,172.4 1042.1,169.7 1044,169.5 1046,171.7 1044.4,175.5 1048.7,176.1 1046.8,173.2 1053.3,171.7 1061.2,171.7 1068.4,173.8 1064.9,170.5 1064.5,166.4 1071.3,165.7 1080.7,165.9 1088.8,165.5 1085.8,163.2 1090.4,160.8 1094.6,160.8 1102.4,158.9 1112.4,158.1 1113.6,157.2 1124,157 1127.1,157.8 1135.6,155.8 1142.9,155.8 1143.8,153.9 1147.5,152.3 1156.6,150.8 1163.3,152 1158,153.1 1166.8,153.6 1167.6,155.4 1171.5,154.7 1182.7,154.7 1191.2,156.6 1194.3,158.1 1193.5,160.1 1189.3,161.1 1179.2,163.2 1176.1,164.3 1180.8,164.9 1186.6,165.9 1190.1,165.2 1192,167.8 1193.8,166.6 1200.1,166.1 1212.4,166.6 1213.3,168.6 1229.4,169.1 1229.8,166.3 1237.9,166.6 1244,166.6 1250.3,168.8 1252,171.3 1249.9,172.9 1254.5,175.9 1260.7,177.5 1264.4,173.6 1270.8,175.1 1277.3,174 1284.7,175.5 1287.4,174.4 1293.9,174.7 1290.8,171.3 1296.3,169.7 1331,172 1334.5,174.4 1344.4,177.5 1360,176.6 1367.7,177.1 1370.8,178.6 1370.4,181.7 1375,182.9 1380.4,182.1 1387.2,181.7 1394.4,182.5 1401.7,182.1 1408.6,185.6 1413.3,184.4 1410.2,181.9 1412.1,180.2 1424.1,181.3 1432.2,180.9 1443.4,182.9 1448.8,184.6M58.4,184.6 67.9,187.5 78.1,191.4 77.7,193.7 80.4,194.8 79.3,191.7 89.7,192.5 97.4,196.1 93.5,197.9 87.4,198.3 87,201.8 85.6,202.8 82,202.6 79.1,201.4 73.9,200.2 73.1,198.3 69.2,197.9 64.6,198.3 62.6,197.1 58.8,196.4 60.7,198.3 58.4,199.9M1448.8,199.9 1443.8,201.8 1438.8,201.4 1442.2,203.3 1444.6,206.6 1446.5,207.7 1446.9,209.1 1445.7,210.3 1438.8,209.5 1428,212.2 1424.5,212.8 1418.5,215.5 1412.9,218 1411.3,219.6 1405.9,216.8 1395.9,219.9 1394,218.4 1390.5,220.3 1385.1,219.6 1383.9,222.3 1379.4,226.1 1379.5,227.7 1383.9,228.4 1383.4,233.8 1379.7,234.2 1378.1,237.3 1379.7,239.1 1373.1,241.2 1371.6,245.4 1365.8,246.4 1364.6,250.4 1359.2,253.9 1357.7,251.2 1356.1,245.4 1353.8,236.9 1355.7,231.5 1359.2,229.2 1359.2,227.7 1365.4,226.7 1372.1,221.9 1378.9,218 1385.9,214.9 1388.9,209.3 1384.3,209.5 1382,213 1372,217.2 1368.9,212.2 1358.8,213.8 1349.2,219.9 1352.4,222.6 1343.8,223.4 1338,223.8 1338,221.1 1332.2,220.3 1327.2,222.3 1315.6,221.9 1302.8,222.9 1290.3,230.4 1275.4,239.6 1281.6,240 1283.5,242.4 1287.4,243.3 1289.7,241.4 1293.9,241.6 1299.5,245.8 1299.7,249.3 1296.6,253.2 1296.3,257.6 1294.6,263.8 1288.7,269.4 1287.4,272.1 1282.3,276.7 1276.9,281 1274.6,283.3 1269.2,285.6 1266.9,285.6 1264.6,283.7 1259.2,286.6 1258.8,287.9 1257.2,287.5 1255.6,289.1 1254.5,290.2 1254.5,292.9 1252.6,293.7 1251.8,294.5 1250.3,295.6 1247.9,296.3 1246,297.2 1246,299.1 1245.7,299.5 1247.2,300.1 1249.3,301.8 1252.6,306.5 1253.8,308.8 1253.8,313.4 1252.2,315.3 1248.7,316.1 1245.7,317.7 1242.2,318 1241.8,316.1 1242.6,313 1240.6,309.2 1243.7,308.4 1241,305.1 1239.1,304.5 1237.5,305.3 1236.3,304.3 1235.2,303.7 1236.4,302 1237.2,301.4 1236.8,300.9 1237.9,298.7 1237.5,298.1 1235.2,297.6 1233.7,296.8 1228.3,298 1225.2,299.5 1221.1,300.7 1223.3,298.7 1222.5,297.4 1225.6,294.9 1223.3,292.7 1220.2,294.1 1215.5,296.8 1213.3,299.3 1209.5,299.5 1207.4,301.4 1209.6,303.9 1212.8,304.5 1212.8,306.3 1215.9,307.2 1220.2,304.5 1223.6,306.1 1226.3,306.3 1226.7,308.4 1221.3,309.3 1219.4,311.5 1215.9,313.4 1213.8,316.1 1217.8,318 1219.4,321.9 1221.7,325.4 1224.4,328.5 1224.4,331.4 1222.1,332.3 1222.9,334.6 1225.2,335.8 1224.4,338.8 1223.6,342 1221.3,342.4 1218.6,346.4 1215.5,351.6 1212.1,356.1 1206.6,359.8 1201.2,362.8 1197,363.2 1194.5,365.2 1193.1,363.8 1190.8,365.7 1185.4,367.7 1181.5,368.2 1180,372.5 1178.1,372.5 1176.9,369.8 1178.1,368.2 1172.7,367.1 1170.9,367.7 1165.7,371 1162.6,374.6 1161.8,377.3 1164.5,381.4 1168.4,386.4 1171.9,388.8 1174.2,391.8 1175.7,399.1 1175.4,405.7 1172.3,408.4 1167.6,410.7 1164.5,414.2 1159.9,417.7 1158.4,415.4 1159.5,412.7 1156.4,410.3 1153.3,410 1151.8,407.8 1149.9,403.8 1146.4,402 1142.9,402.2 1143.6,399.1 1140.2,399.1 1139.9,403.4 1137.9,409 1136.5,412.4 1136.7,415.4 1139.4,415.4 1141,418.8 1141.8,422.3 1143.8,424.3 1146,425 1147.9,427 1149.1,427.3 1151.3,429.7 1153,432 1153,434.7 1152.6,436.6 1153,437.8 1153.3,440.1 1154.7,441.2 1156.2,444.7 1156.1,445.9 1153.3,446.3 1149.9,443.3 1145.2,440.1 1144.9,438.2 1142.5,435.8 1142.1,432.4 1140.6,430.4 1141,427.6 1140.2,425.8 1138.7,424.4 1137.9,422.7 1135.9,420.4 1134,418.5 1133.3,420.8 1132.7,418.7 1133.3,416.3 1134.2,412.7 1134,409.6 1135.2,406.9 1133.7,404.4 1134,400.3 1132.5,398.4 1131.3,393.7 1130.6,388.7 1129,385.6 1126.3,387.6 1122.1,390.3 1119.7,389.9 1117.4,388.9 1118.6,384.1 1117.8,380.6 1114.7,376 1115.5,374.8 1113.2,374 1110.5,371 1109.3,369 1109,367.1 1108.2,365.2 1106.6,362.8 1103.1,362.8 1103.5,364.4 1102.4,366.7 1100.6,365.8 1100,366.3 1098.9,366 1097.5,365.7 1097,367.1 1094.3,367.1 1089.5,367.9 1089.7,371 1087.7,373.1 1082.1,375.6 1077.6,380.2 1074.9,382.5 1071.1,385.2 1071.1,386.8 1069.2,387.9 1065.7,389.3 1063.7,389.5 1062.7,392.6 1063.4,397.6 1063.7,400.7 1062.2,404.3 1062.2,410.7 1059.9,411.1 1058.3,414 1059.5,415.4 1056,416.5 1054.5,419 1052.9,420.1 1049.5,416.5 1047.5,411.1 1046.2,407.3 1044.8,405.3 1042.9,401.8 1041.7,396.9 1041,394.5 1037.5,389.1 1035.9,381.8 1034.8,376.7 1034.8,372.1 1034,368.2 1028.6,370.7 1025.9,370.2 1020.9,365.6 1022.4,364.2 1021.3,362.8 1017,359.4 1013.9,358.6 1013,355.5 1010.1,352.8 1002.7,353.6 996.5,353.6 991.1,354 983.8,352.8 979.5,352 975.3,351.6 973.6,346.7 971.8,346.2 968.7,346.8 964.9,348.6 960.2,347.4 956.4,344.3 952.5,343.1 950,339.7 947.1,334.5 945.2,335.1 942.5,333.9 941.3,335.4 938.9,335.1 939.8,337 939.4,337.7 940.5,340.6 942.1,343.9 944,344.7 944.8,346.2 947.3,347.8 947.5,349.3 947.1,350.9 947.5,352 948.6,353.2 949.4,354.3 949.8,355.3 949.4,352.4 950.6,350.5 951.7,350.1 952.9,351.3 952.9,353.6 952.1,355.9 952.9,357.2 953.7,357 953.7,358.1 956.8,357.4 959.8,357.6 962.2,357.8 964.9,355.1 967.6,352.8 970.2,350.2 971.4,348.9 971.8,349.3 971.4,350.9 971.1,351.6 971.4,354.7 973.2,357.4 975.3,358.6 978,359.2 980.3,359.8 982.3,362.1 983.2,363.2 984.6,364 984.6,364.8 983,367.1 982.6,368.2 981.1,369.4 979.5,372.1 977.7,371.7 976.8,372.9 976.5,374.8 976.8,377.2 976.5,377.7 974.5,377.7 972.2,379.1 971.8,381 971.1,381.8 968.7,381.8 967.2,382.9 967.2,384.5 965.3,385.4 962.9,385.1 960.6,386.4 958.7,386.6 956,387.6 955.2,389.5 955.2,390.6 951.4,392.2 945.2,394.1 941.7,396.8 939.8,397 938.6,396.8 936.5,398.4 934,399.1 930.9,399.3 929.7,399.5 929,400.6 927.8,400.9 927.4,401.8 925.5,401.8 924.3,402.2 921.6,402.2 920.5,399.9 920.6,397.6 920,396.6 919.3,393.7 918.1,392.2 918.9,391.8 918.5,390.3 918.9,389.5 918.9,387.8 918.3,386 917.2,384.9 917,383.3 914.9,382.2 912.7,378.7 911.6,375.6 909.1,372.9 907.3,372.5 904.6,368.6 904.3,366 904.5,363.6 902.3,359.4 900.4,357.9 898.4,357 897.1,354.7 897.3,354 896.1,352 895,351.3 893.6,348.2 891.1,345.1 889.2,342.5 887.2,342.5 888,340.4 888,339 888.6,337.3 888.4,337 887.2,338.5 886.5,341.6 885.5,343.5 884.5,344.1 883.4,342.9 881.4,341.2 878.7,335.6 879.5,335M866,291.8 871,292.2 873.7,292.2 878.4,289.8 883,288.6 889.6,288.5 896.1,291.4 901.7,292.7 906.2,292.2 909.6,292.5 914.1,290.6 914.7,288.8 913.7,286.2 911.6,284.8 909.3,284.4 907.9,283.3 903.1,279.8 898.4,278.3 895.4,276.3 898.1,275.6 901.1,272.5 899.2,270.9 904.6,269.2 904.6,268.2 901.1,269 898.1,269.3 895.7,270.5 891.9,270.9 888.6,272.1 888.9,274.6 890.7,275.6 894.6,275.2 893.8,276.7 889.6,277.5 884.5,279.4 882.2,278.6 883,277 878.9,275.9 879.5,275.2 883.4,273.8 882.2,272.9 876,272.1 876,270.5 872.2,270.9 871,273.1 867.9,275.9 867.9,276.9 866,277.9 864.8,277.5 864.1,282.1 861.9,283.7 860.6,286.4 861.7,288.7 862.1,290.2 865.6,291.4 866,291.8M943.2,271.7 941.3,274 937.8,274.8 934,278.6 937.4,282.1 937.1,284.9 941.3,289.5 945.2,294.1 947,294.5 948.3,295.3 945.2,295.6 944.4,298.7 943.6,300.1 942.5,301 942.5,303 943.6,305.7 947.3,306.5 949.8,308.4 955.6,309.2 961.4,308.1 961.8,307.2 961,304.5 961.8,300.5 958.7,299.1 959.8,296.5 957.1,296.3 957.9,292.9 961.8,294.1 964.9,292.7 962.2,290.2 961,288.3 957.9,289.1 957.5,292.2 956.4,289.5 956,288.6 957.1,287.1 956.4,285.6 951.7,284.4 950.2,280.8 947.9,279.8 947.9,278.6 951.7,279 951.7,276.3 955.2,275.6 958.5,275.9 959.1,272.5 958.5,270 954.6,270.1 951.4,269.2 946.8,270.9 943.2,271.7M801.5,305.7 802.3,303.7 806.5,304 811.9,303.4 813.5,303.4 812.3,306.5 812.7,307.6 811.9,309.5 808.8,308 806.9,307.6 801.5,305.7M785.3,292.5 787.2,292.9 789.1,291.8 791.5,294.5 791.1,299.5 789.1,299.5 787.6,300.7 786,299.5 786,294.9 785.3,292.5M790.7,287.9 789.1,291 787.6,290.2 786.4,287.5 787.2,286.4 789.9,284.8 790.7,287.9M845.1,313 847.1,314.2 850.3,314.2 853.3,314.2 852.9,314.9 855.2,314.6 854.8,315.7 849,316.1 849,315.3 844.4,314.6 845.1,313M879.9,315.3 880.3,315.3 880.7,314.2 883.8,314.2 887.2,313 884.5,314.9 884.9,315.7 881.1,317.3 879.1,316.9 878.4,315.3 879.9,315.3M742,224.6 737.9,228.6 741.8,228 746,228 745.1,231.1 741.6,234.7 745.5,235 749.4,240 752.1,240.4 754.4,245 755.5,246.6 760.2,247.4 759.8,249.7 757.7,250.8 759,252.8 755.9,254.7 750.5,254.7 743.9,255.9 742.2,255.1 739.7,257 736.2,256.6 733.5,257.9 731.2,257 737,253.2 740.5,252.4 734.4,251.6 733.1,250.1 737.4,248.9 735.1,247 735.8,244.3 741.7,244.7 742.2,242.4 739.7,240 739.7,240 735.1,239.2 734,238.2 735.5,236.5 734.1,235.4 732,237.3 732,233.5 729.9,231.5 731.2,227.7 734.3,224.6 737.4,224.8 742,224.6M729.7,242.7 730.3,245.6 727.3,248.9 720.4,251.2 715.1,250.8 718.1,246.6 716.1,242.7 721.5,239.6 724.3,238.1 725,240 731.6,240.2 729.7,242.7M697.6,194.1 696.8,196.8 701.1,199.5 696.1,202.2 684.9,204.9 681.4,205.6 676.5,205.3 665.5,203.9 669.4,202.2 660.9,200.2 667.9,199.5 667.9,198.3 659.8,197.5 662.1,194.8 668.2,194.4 674,197.1 680,194.8 684.9,196 691,194.1 697.6,194.1M811.9,143.1 813.5,141.8 819.3,141.7 824.3,143.1 836.6,145.9 827.1,147.3 825.1,150.4 821.6,151.2 819.7,154.3 815,154.3 806.9,152 810.4,150.8 804.6,149.6 796.9,146.2 793.8,143.3 804.6,141.9 806.5,143.1 811.9,143.1M859.4,141.7 853.6,143.9 842.5,144.2 831.2,143.5 830.5,142.7 825.1,142.3 820.8,140.8 832.8,139.6 838.2,140.4 842.1,139.2 851.7,140.4 859.4,141.7M849,150 840.5,152 833.6,150.8 836.3,150 833.9,148.5 842.1,147.7 843.6,149.3 849,150M952.5,172.8 956.4,172 956,169.7 963.7,166.6 960.2,166.1 969.5,162.8 968.3,160.9 977.2,158.9 990,156.4 1002.7,155.8 1009.3,154.3 1017,153.9 1019.5,155.4 1017,156.6 1003.1,158.5 991.5,160.1 979.5,163.9 973.7,167.8 967.6,171.3 968.3,174.7 975.7,177.8 973.4,178.2 961,177.5 959.8,175.9 952.9,174.7 952.5,172.8M933.2,141 935.4,139.8 926.6,139.6 934.4,138.8 940.2,138.8 940.9,140 943.2,139 946.9,138.4 952.5,139.2 951,139.8 945.9,140.4 942.5,140.8 941.9,141.1 937.4,141.9 933.2,141M1139.4,146.2 1131.3,146.7 1120.4,145.6 1114,144.2 1110.9,141.5 1105.8,140.8 1115.9,138 1124,137.1 1131.7,139 1140.6,142.7 1139.4,146.2M1159.5,148.5 1137.5,150 1144.9,145 1147.9,144.4 1150.6,144.6 1160.7,146.9 1159.5,148.5M1289.7,157 1300.1,157 1314,158.9 1310.9,162 1296.6,162 1290.3,162.8 1282.6,160.1 1284.7,157.6 1289.7,157M1326,159.9 1335.6,160.9 1331.4,162.4 1325.2,162 1317.9,160.5 1319,159.3 1326,159.9M1293.9,167.4 1297.4,165.9 1302.3,165.5 1307.8,167 1308.2,168.2 1302.4,168.2 1294.5,167.8 1293.9,167.4M1448.8,174.7 1443.8,176.3 1444.6,177.5 1448.8,177.5M58.4,177.5 63.4,177.1 67.7,175.5 67.3,176.3 62.3,174.4 58.4,174.7M1305.5,243.5 1307.1,247.4 1306.7,250.8 1308.2,255.1 1312.5,261.7 1306.7,260.5 1304.4,265.9 1307.8,270.1 1307.8,272.9 1304.7,270.5 1302.4,273.4 1301.7,270.1 1302.1,266.3 1301.7,262 1302.4,259.3 1302.8,254.1 1300.5,250.4 1300.9,245 1304.4,243.1 1302.8,241.6 1304.7,240.8 1305.5,243.5M1309.4,280.2 1312.1,281.1 1314.8,279.4 1315.6,283.7 1310,284.9 1306.7,288.7 1300.5,286 1298.5,290.2 1294.2,290.2 1293.5,286.4 1295.5,283.7 1299.7,283.3 1300.9,277.9 1301.9,275 1306.3,279 1309.4,280.2M1301.7,296.4 1298,303.4 1298.1,307.6 1296.6,310.7 1297.4,312.6 1295.3,315.3 1290.4,316.9 1283.5,317.3 1278.1,321.5 1275.4,320.2 1275.3,317.3 1268.4,318 1264,320 1259.5,320 1263.4,323.1 1260.7,329.4 1258.4,331.1 1256.5,329.6 1257.2,326.1 1254.9,325 1253.4,322.3 1257.1,321.1 1259.2,318.8 1263,316.7 1265.7,314.2 1273.5,313 1277.7,313.8 1281.6,306.8 1284.3,308.8 1290.1,304.9 1292,303.4 1294.5,298.7 1293.9,294.1 1295.5,291.8 1299.7,291 1301.7,296.4M1273.5,319 1274.2,320.4 1271.9,322.7 1270.4,321.5 1268.4,322.3 1267.3,324.6 1265,323.5 1265,321.5 1266.9,319.4 1269.2,320 1270.8,318 1273.5,319M1224,356.7 1221.7,362.8 1219.8,365.9 1217.8,362.8 1217.5,359.8 1219.8,356.3 1222.9,353.2 1224.6,354.4 1224,356.7M1179.6,378.7 1176.5,380.6 1173.4,379.4 1173,376 1175,374.4 1179.2,373.3 1181.5,373.3 1182.4,374.8 1180.8,376.4 1179.6,378.7M1069.5,421.9 1068.8,425.8 1067.2,427 1063.7,427.8 1062.2,424.6 1061.4,419.2 1063,413 1065.7,415 1067.6,417.7 1069.5,421.9M1222.1,379.4 1224.4,380.6 1225.6,379.4 1226,380.6 1225.6,382.2 1226.7,384.9 1225.8,387.9 1223.6,389.5 1222.9,392.6 1223.6,395.7 1226,396.1 1227.5,395.7 1232.3,397.6 1231.9,399.9 1233.3,400.7 1232.8,402.6 1229.8,400.6 1228.3,398.6 1227.5,399.9 1224.9,397.6 1221.3,398.4 1219.4,397.2 1219.8,395.7 1220.9,394.9 1219.8,393.7 1219.4,395.3 1217.3,393.1 1216.7,391.4 1216.7,387.6 1218.2,389 1218.6,382.9 1219.8,379.4 1222.1,379.4M1241.8,418.5 1242.2,421 1242.2,423.1 1241,426.6 1239.5,422.7 1237.9,424.6 1239.1,427.5 1237.9,429.3 1233.3,427 1232.1,424.3 1233.3,422.3 1231,420.8 1229.8,422.3 1227.9,421.9 1225.1,424.3 1224.4,423.1 1226,419.9 1228.3,418.8 1230.6,417.3 1231.8,419.2 1234.8,418.1 1235.6,416.3 1238.3,416.2 1237.9,413 1241,415 1241.4,416.9 1241.8,418.5M1215.1,406.9 1215.9,410.2 1213.3,412.3 1211.3,415 1206.3,418.5 1208.2,415.9 1210.9,413.4 1213.2,410.7 1215.1,406.9M1233.7,406.5 1236,406.9 1236,405.3 1233.7,402.4 1237.2,402.6 1238.3,403.8 1239.5,408.2 1236.4,407.3 1236.5,408.5 1237.5,410.7 1235.6,411.9 1235.5,409.2 1234.5,408.8 1233.7,406.5M1224.8,410.7 1224.7,408.8 1225,406.9 1224.4,404.9 1226.7,406.1 1229,406.1 1229,407.6 1227.1,409.6 1224.8,410.7M1228.7,416.1 1226.3,413.4 1227.1,412.4 1227.9,411.1 1228.3,408.8 1230.6,408.8 1229.8,411.1 1232.8,407.6 1232.4,411.1 1231,412.5 1229.8,415 1228.7,416.1M1222.9,400.4 1222.1,403.8 1220.2,401.8 1218.2,398.8 1221.7,399.1 1222.9,400.4M1121.7,429.7 1130.2,430.8 1133.7,434.3 1136.4,437 1138.7,438.5 1142.1,442.8 1146.4,442.8 1149.5,445.5 1151.7,448.6 1154.5,450.5 1153,453.6 1155.3,455 1156.8,455.1 1157.2,457.9 1158.8,459.8 1161.5,460.2 1163.4,462.7 1162.6,467.5 1162.2,473.5 1158,473.7 1154.9,470.4 1149.9,467.1 1148.3,464.8 1145.2,461.7 1143.3,458.8 1140.2,453.4 1137.1,450.1 1135.9,446.9 1134.4,443.9 1130.9,441.4 1129,438.2 1125.9,435.8 1122.1,431.7 1121.7,429.7M1160.7,477.4 1163.2,473.7 1168,473.9 1171,475.4 1172.7,475.6 1173,477.2 1180.4,477.5 1181.4,476 1188.5,477.5 1190,480.3 1195.8,481 1200.5,483.3 1196.2,484.7 1192,483.1 1188.5,483.3 1184.2,483 1180.8,482.2 1176.1,480.6 1173.4,480.3 1171.9,481 1164.9,479.3 1164.2,477.5 1160.7,477.4M1209,443.9 1213.2,447.4 1208.6,447.8 1207.4,450.5 1207.4,454 1203.9,456.7 1203.6,460.6 1202,466.4 1201.6,465.2 1197.4,466.7 1195.8,464.4 1193,464 1191.2,462.9 1186.4,464.4 1185,462.4 1182.5,462.7 1179.2,462.1 1178.7,457.1 1176.9,455.9 1174.9,452.8 1174.4,449.4 1174.9,445.9 1177.3,443.2 1180,444.3 1183.1,443.8 1183.9,440.5 1185.4,439.7 1190,438.9 1192.7,435.8 1194.7,433.5 1196.2,432 1199.5,429.9 1202.4,427.3 1204.3,424.3 1205.9,424.3 1207.8,426.2 1208.2,427.8 1214,430 1213.6,431.5 1210.9,431.7 1211.7,433.5 1209,435.1 1205.5,434.3 1206.6,438.5 1209.5,442 1209,443.9M1237.2,445.5 1234.1,449.4 1231.4,450.1 1227.5,449.4 1221.2,449.4 1217.8,450.1 1217.2,452.8 1220.6,456.3 1222.9,454.6 1229.8,453.2 1227.9,454.4 1226.3,456.7 1222.9,458.2 1226.5,463.3 1226,464.4 1229.4,469.1 1229.4,471.4 1227.1,472.5 1225.6,471.4 1227.5,468.3 1223.6,469.6 1222.9,468.7 1223.3,467.1 1220.6,464.8 1220.8,460.9 1218.2,462.1 1218.6,466.7 1218.6,472.1 1216.3,472.9 1214.8,471.8 1215.7,468.3 1215.1,464.4 1213.5,464.4 1212.4,461.7 1214,459.2 1214.4,456.1 1216.3,450.3 1217.2,448.6 1220.6,445.9 1223.6,447 1228.3,447.4 1232.8,447.4 1236.7,444.7 1237.2,445.5M1271.5,455.3 1272.7,461.7 1276.9,464 1280,459.8 1284.3,457.5 1287.8,457.5 1291.2,458.8 1293.9,460.2 1298.2,460.9 1304.7,463.6 1312.1,466 1314.8,467.9 1316.7,469.8 1317.4,472.1 1323.7,474.4 1324.8,476.4 1321.2,476.8 1322.1,479.5 1325.5,482 1327.9,486 1330.2,485.9 1330.2,487.6 1333.1,488.4 1331.8,489.1 1336,490.7 1335.6,491.8 1333.1,492 1332.2,491.1 1324.8,489.9 1321.7,487.6 1319.8,485.3 1317.7,482.1 1312.5,480.3 1309.4,481.4 1307.1,482.6 1307.5,485.6 1304.4,486.8 1302.3,486.4 1298.3,486 1294.7,483 1290.8,482.2 1290.1,483.3 1285.1,483.3 1286.8,480.3 1289.3,479.1 1288.1,474.8 1286.2,471.8 1278.8,468.3 1275.8,468.3 1270,464.4 1268.8,466.4 1267.2,466.7 1266.5,465.2 1266.3,463.6 1263.4,461.7 1267.6,460.6 1270.4,460.6 1270,459.4 1264.2,459.4 1262.7,457.1 1259.2,456.3 1257.6,454.4 1263,453.6 1265,452.4 1271.1,454 1271.5,455.3M1247.6,442.4 1248,444.7 1250.3,445.1 1250.7,446.7 1250.3,449.7 1248.4,449.4 1247.9,451.9 1249.5,454 1248.4,454.4 1246.8,452.1 1245.7,447 1246.4,443.9 1247.6,442.4M1253.4,461.7 1257.6,462.9 1258.8,466 1255.7,464 1252.4,464 1250.3,464 1247.6,464 1248.4,461.7 1253.4,461.7M1244.9,464.4 1243.7,465.6 1241,464.8 1240.2,463.3 1244.1,462.9 1244.9,464.4M1236.4,486 1236.3,485.3 1236.8,484.3 1240.1,483.3 1242.6,483.3 1244,483 1245.3,483.3 1244,484.5 1239.9,486 1236.7,487.2 1234.1,489.9 1231,491.1 1230.6,490.3 1230.8,489.1 1232.4,486.8 1236.3,485.3M1228.3,482.2 1227.9,484.3 1221.9,485.3 1216.7,484.9 1216.7,483.3 1219.8,482.6 1222.1,483.7 1224.8,483.7 1228.3,482.2M1218.6,490.7 1213.1,488 1216.7,487.2 1218.6,488.4 1220.2,489.4 1219.8,490.3 1218.6,490.7M1210.5,483.3 1212.8,483 1213.6,484.5 1209.2,485.3 1206.6,485.8 1204.3,485.8 1205.8,483.7 1207.8,483.3 1209,482.2 1210.5,483.3M1341.1,472.1 1338.7,472.5 1338,473.3 1335.8,474.4 1333.7,475.2 1331.8,475.2 1328.7,474.2 1326.4,473.1 1326.8,471.8 1330.2,472.5 1332.4,472.1 1332.9,470.3 1333.5,470.2 1333.7,472.1 1336,472.1 1337.2,470.6 1339.1,469.4 1338.7,467.1 1341.1,466.9 1341.8,467.5 1341.8,469.8 1340.6,472.1 1341.1,472.1M1335.6,461.3 1341.4,463.3 1344.1,467.1 1345.1,468.3 1343.8,469.4 1343,467.1 1342.2,465.6 1340.5,464.4 1338.4,462.6 1335.6,461.3M1351.3,471.4 1352.5,472.5 1354.2,474.8 1356.2,476 1355.7,477.2 1354.6,477.5 1353,476 1351.1,473.7 1350.3,470.6 1350.9,470.4 1351.3,471.4M1370,481.9 1371.2,483 1371.2,483.7 1368.1,482.2 1366.2,480.8 1364.6,479.5 1365.4,479.1 1366.9,480.1 1370,481.9M1375,489 1373.5,489.1 1371,488.8 1370,488 1370.4,486.4 1373.1,487.2 1374.3,488 1375,489M1378.1,488 1377.4,488.8 1374.7,485.3 1373.9,483 1375,483 1376.6,486 1378.1,488M1379.7,491.5 1380.8,492.6 1378.1,492.6 1376.6,490.3 1378.9,491.1 1379.7,491.5M1399.4,512.3 1401.7,514.6 1400.5,515 1399.4,513.5 1399.4,512.3M1397.8,511.5 1397.3,510.4 1397.2,507.3 1399,508.4 1399.8,511.5 1398.6,511.2 1397.8,511.5M1394,532.3 1397.1,534.7 1399,536.6 1397.4,537.4 1395.5,536.3 1392.8,534.7 1390.1,532.6 1387.8,529.7 1387.1,528.5 1388.9,528.5 1391,530.1 1392.8,531.2 1394,532.3M1308.2,504.2 1309.4,506.9 1312.1,505.7 1315.2,508.8 1314.8,510.4 1315.6,513.9 1315.9,515.8 1318.3,519.6 1317.7,521.6 1319,524.1 1323.3,526.2 1326,528 1328.3,529.7 1327.9,530.5 1330.2,533.2 1331.8,537 1333.3,536.3 1334.9,538.2 1335.6,537.4 1336.4,541.7 1339.1,543.9 1340.9,545.5 1344.1,548.6 1344.9,551.6 1345.3,553.6 1344.9,556.3 1346.8,559.4 1346.5,562.9 1345.7,564.8 1344.8,568.1 1344.9,570.2 1344.1,572.9 1342.6,576.8 1339.5,578.5 1338,581.4 1336.8,583.4 1335.6,586.9 1334.1,588.8 1333.3,591.5 1332.6,594.2 1332.9,595.3 1330.6,596.9 1326.4,596.9 1322.9,598.4 1321,600 1318.7,601.7 1315.6,600 1313.2,599.2 1313.7,597.3 1311.7,598 1308.2,600.8 1304.7,599.6 1302.8,599.2 1300.5,598.8 1296.6,597.7 1294.3,595.3 1293.5,592.3 1292.8,588.8 1290.8,588.8 1287,588.4 1288.1,586.5 1287.4,583.8 1285.4,586.4 1282,587.2 1284.3,584.9 1284.7,582.6 1286.2,580.7 1285.8,578 1282.7,581.3 1280.4,582.6 1278.8,585.7 1275.8,584.1 1275.8,581.8 1273.5,579.1 1271.5,577.6 1272.3,576.8 1267.2,574.5 1264.6,574.4 1260.7,572.6 1253.8,572.9 1248.7,574.1 1244.5,575.7 1240.6,575.3 1236.7,577.2 1233.3,578.2 1232.6,580.3 1231.4,581.8 1227.9,581.8 1225.6,582.2 1222.1,581.4 1219.4,581.8 1216.7,582.1 1214.4,584.1 1213.2,584.1 1211.3,584.9 1209.4,586.3 1206.6,586.2 1203.9,586.2 1200.1,583.8 1197.9,583 1198,580.7 1199.7,580.3 1200.5,579.5 1200.5,578 1200.9,575.3 1200.5,572.9 1198.5,569.1 1197.8,566.9 1197.9,564.8 1196.2,562.1 1196.2,561 1194.7,559.4 1194.1,556.3 1192,553.2 1191.2,551.7 1193.1,553.2 1191.6,549.8 1193.5,550.9 1194.7,552.5 1194.7,550.5 1192.7,547.4 1192.4,546.3 1191.6,545.1 1192,542.8 1192.7,542 1193.1,537.8 1192.7,537.8 1194.3,535.1 1194.7,537.8 1196.2,535.1 1199.7,533.9 1201.2,532.3 1204.3,530.8 1206.3,530.5 1207,530.8 1210.1,529.7 1212.4,529.3 1213.2,528.3 1214.4,528 1216.3,528.1 1220.6,527 1222.5,525.1 1223.6,523.1 1225.6,521.2 1226,519.6 1226,517.7 1228.7,514.2 1230.2,517.7 1232.1,516.8 1230.6,515 1231.8,513.1 1233.7,513.9 1234.1,511.2 1236,509.1 1237.2,507.7 1239.1,506.9 1239.1,505.7 1240.6,506.1 1240.6,505.4 1244.4,504.2 1247.2,506.1 1249.5,508.4 1251.8,508.4 1254.2,508.7 1253.4,506.5 1255.3,503.4 1256.9,502.7 1256.5,501.5 1258,499.2 1260.3,498 1262.3,498.4 1265.7,497.6 1265.7,495.7 1262.7,494.5 1265,493.8 1267.4,494.9 1269.6,496.5 1272.7,497.4 1273.9,496.9 1276.2,498 1278.5,497.1 1280,497.4 1280.8,496.9 1282.5,498.8 1281.6,500.7 1280,502.3 1278.7,502.3 1279.2,503.8 1278.1,505.7 1276.6,507.7 1276.9,508.8 1280,511 1283,512.3 1285.1,513.5 1287.8,515.8 1288.9,515.8 1290.8,516.8 1291.6,518.1 1295.1,519.3 1297.8,518.1 1298.5,515.8 1299.3,514.2 1299.7,511.9 1300.9,509 1300.5,507.3 1300.5,506.1 1300.1,503.8 1300.9,500.7 1301.3,500 1300.9,498.8 1301.7,496.9 1302.4,494.5 1302.4,493.5 1304,492.2 1305.1,494.2 1305.5,496.5 1306.3,496.9 1306.7,498.4 1307.8,500.3 1308.2,502.7 1308.2,504.2M1324.1,608.5 1326.4,608.9 1326.8,613.3 1325.3,614.7 1324.8,617.7 1323.7,616.6 1321,619.3 1320.2,619.3 1317.7,619.1 1315.2,615.8 1314.8,613.2 1312.5,610 1312.5,608.1 1315.2,608.5 1319,609.6 1321,609.3 1324.1,608.5M1421.9,608.9 1422.5,610.4 1425.5,608.9 1426.4,610.4 1426.4,612.3 1425.3,613.9 1422.5,616.9 1420.6,618.5 1422.1,620.3 1419.1,620.5 1416,621.6 1414.8,624.3 1412.5,628.2 1409.4,630.1 1407.5,630.9 1404,630.9 1401.7,629.7 1397.4,629.3 1396.7,628 1398.8,625.1 1403.6,621.2 1405.9,620.5 1409,619.3 1412.1,617.1 1414.4,615 1416.4,612.3 1417.5,611.2 1418.3,609.1 1421,607.3 1421.9,608.9M1428,590.7 1430.7,594.6 1431,591.9 1432.6,593 1433.2,596.1 1436.5,597.3 1438.8,597.5 1441.1,596.1 1443,596.5 1442.2,600 1441,602.3 1438,601.9 1436.8,603.1 1437.3,605 1436.8,605.7 1435.3,607.7 1433.4,610.4 1430.3,612 1429.8,610.8 1428.1,610.4 1430.3,607.3 1429.1,605 1424.9,603.5 1425.1,602.1 1428,600.8 1428.3,597.8 1428.3,595.3 1426.8,592.6 1426.8,591.9 1424.9,590.3 1422,586.9 1420.2,584.1 1421.8,584 1423.9,586.1 1426.8,587.2 1428,590.7M1019.7,638.6 1022.4,639.8 1025.9,640.4 1026.3,641.3 1025.1,642.9 1018.9,643.2 1018.9,640.9 1019.7,639.4 1019.7,638.6M572.9,131.9 586,129.6 599.5,129.6 604.5,128.4 618,127.8 648.9,128.4 673.3,131.5 665.9,133 651.3,133 630.4,133.4 632.3,134.1 645.8,133.8 657.8,135 665.2,133.8 668.4,135.4 664,137.5 674,136.1 692.6,134.6 704.2,135.4 706.5,136.9 690.7,139.6 688.5,140.6 676.2,141.1 685.2,141.5 680.6,144.2 677.5,146.7 677.5,151.2 682.2,153.5 676.2,153.7 669.8,155.1 677.1,157 677.9,160.3 673.7,160.5 678.7,163.9 670.2,164.3 674.8,165.9 673.3,167 667.9,167.8 662.5,167.8 667.5,170.5 667.5,172 659.8,170.5 657.8,171.7 663.2,172.5 668.2,174.7 669.6,177.8 662.8,178.6 659.8,177.1 655.1,175.1 656.3,177.6 651.6,179.8 662.1,179.8 667.5,180.2 656.9,183.2 646.6,186.3 635,187.9 630.8,187.9 626.9,189.4 621.5,193.3 613.2,196.1 610.5,196.4 605.3,197.1 599.9,197.9 596.4,200.6 596.4,203.3 594.5,205.6 588.3,208.7 589.8,211.8 587.9,215 586,218.8 580.6,219 574.8,215.9 567.1,215.8 563.6,213.8 560.9,209.9 554.3,205.3 552.4,202.6 551.6,199.1 546.2,195.6 547.7,192.9 545.2,191.4 549,186.7 554.7,185.6 556.3,183.8 557,180.9 552.7,182.1 550.5,182.9 547,183.2 542.3,182.1 542.1,179.4 543.5,177.5 547.4,177.5 555.1,178.2 548.5,175.9 545,174.7 541.2,175.1 538.1,174.2 542.3,170.5 540,169.1 536.9,166.4 532.3,162.4 527.3,160.8 527.3,159.3 516.8,157 508.7,156.6 498.5,157 489,157.1 484.4,155.8 477.8,153.5 487.9,152.3 495.6,152 479.2,151.2 470.5,149.5 470.9,148.1 485.6,146.2 499.9,144.2 501.4,142.7 490.9,141.5 494.1,140 507.6,137.3 513.4,136.9 511.6,135 520.7,134.1 532.7,133.4 544.7,133.4 548.8,134.6 558.9,132.7 568.2,134 573.6,134.2 581.7,135.4 572.5,133.4 572.9,131.9M422.2,165.9 419.1,168.2 422.2,170.9 425.9,167.8 435.7,166.1 442.3,170.1 441.7,172.6 449.3,171.3 453.1,169.9 461.6,172 467,173.6 467.4,175.5 474.8,174.4 478.6,177.1 487.9,178.6 491.4,180.2 495,183.6 487.9,185.6 497,188 502.9,188.8 508.7,192.5 514.7,192.5 513.4,195.2 506.8,199.9 502.2,198.3 496,194.4 490.9,194.8 490.6,197.1 494.5,199.5 499.9,201.2 501.4,202.2 503.7,206 502.5,208.7 497.5,208 487.9,204.7 493.3,208 497.5,210.3 497.9,211.8 487.5,210.3 479.3,208 474.8,206 475.9,204.9 470.1,202.9 464.7,201 464.7,202.2 453.5,202.9 450,201.4 452.7,198.7 460,198.7 468,198.1 466.6,196.8 468.2,194.8 473,191 472,189.4 470.5,188 464.7,186.1 456.6,184.8 459.3,183.8 455.1,181.3 451.6,181.3 448.6,179.8 446.6,180.9 439.6,181.7 425.7,180.7 417.4,179.4 411,179 407.9,177.5 411.8,175.9 406.4,175.9 405.2,172 408.3,168.6 412.2,167 422.2,165.9M337.3,174.7 332.6,170.5 335.7,168.6 337.6,168.2 342.3,168.6 346.5,170.1 348.8,174 350,176.7 356.6,178.6 363.6,180.5 363.2,182.1 357,182.5 359.3,184 358.1,185.4 351.2,184.8 344.4,183.6 340,184 332.6,185.2 323,185.9 316,186.3 313.9,184.4 308.7,183.2 305.2,183.6 300.6,180.7 302.9,180.3 309.1,179.8 314.5,179.8 319.5,179 312,178.2 303.7,178.6 298.2,178.6 296.3,177.1 305.2,175.5 299.2,175.5 292.5,174.4 295.5,171.7 298.2,170.1 308.7,167.8 312.5,168.6 310.6,170.3 319.5,169.1 324.7,171.1 329.1,169.1 332.6,170.5 335.7,174.2 337.3,174.7M276.6,175.5 267.3,173.2 268.9,171.7 271.6,168.9 275.1,166.3 271.2,163.9 284.3,163.5 289.7,164.3 299.4,164.3 303.3,165.5 307.5,167 302.5,168.2 293.2,170.9 288.2,173.6 288.2,175.1 278.2,177.1 276.2,175.5 276.6,175.5M458.9,129.6 461.2,130.1 472.4,129.6 480.5,129.6 489,129.9 499.5,130.2 507.6,130.7 514.7,131.9 514.5,132.7 505.3,134.6 495.8,135.4 492.1,136.1 500.6,136.1 491.7,138.4 485.2,139.6 478.6,142.7 470.9,143.5 468.2,144.2 456.6,144.6 462,145 459.3,145.7 462.4,147.7 458.9,148.9 452.7,150 450.8,151.6 445.4,152.7 446.2,153.6 452.7,153.4 452.7,154.3 442.3,156.6 432.3,155.6 421.1,156.2 415.3,155.8 407.9,155.4 407.5,153.7 414.5,152.7 412.6,150 415.1,149.8 425.4,151.6 420.3,148.9 413.9,148.1 417,146.7 423.8,145.8 425,144.4 419.5,143.1 418,141 428.4,141.1 431.5,141.5 437.7,140 428.8,139.6 415.3,140 408.3,138.4 405.2,136.9 400.6,135.9 399.8,134.6 405.6,133.8 410.3,133.8 417.7,133 423.4,131.7 428,131.9 432.3,133 435.4,130.7 440.4,130.3 447.3,129.9 458.9,129.6M392.1,161.2 389.8,162.8 384.4,162.4 379.7,161.6 381.7,159.7 387.3,158.9 390.6,160.1 392.1,161.2M442.3,162.8 437.3,163.5 421.1,163.5 413.1,163.5 406.8,163.2 396.7,162 395.2,159.7 394.8,157.8 390.9,156.2 383,155.8 378.6,154.5 380.1,152.7 387.9,153.1 392.1,154.3 399.8,154.3 403.3,155.8 402.3,157.1 406.8,157.9 409.1,158.9 414.5,158.9 419.9,159.3 426.1,158.5 434,158.1 440.4,158.5 444.4,160.1 445.4,161.6 442.3,162.8M443.5,211.4 444.9,209.9 446.5,210 447.4,210.8 445.9,212.9 444.2,212.5 443.2,211.4 443.5,211.4M429.2,209.7 432.1,207.9 437.4,208 437.3,208.7 432.8,210.8 430.1,210.7 429.2,209.7M424.7,197.3 425.4,199 427.4,198.4 429.6,199.4 433.8,200.7 438.3,201.9 438.6,203.8 441.5,203.5 444.2,204.8 440.8,206 434.8,205.1 432.6,203.3 428.8,205.4 423.3,207.4 422,205.1 416.7,205.5 420.1,203.6 420.6,200.5 421.9,197 424.7,197.3M367.1,165.7 370.6,166.5 377.5,166 378.5,167.1 374.9,169 380.7,170.7 380,174.1 373.7,175.6 370,175.3 367.3,173.8 357.7,170.8 357.8,169.6 365.7,170.1 361.4,167.6 366,165.7 367.1,165.7M393.6,169.8 389.5,172.7 385.1,172.6 382.7,169.2 382.8,167.3 384.8,165.6 388.6,164.6 396.7,164.7 404,165.6 398.3,169.1 393.6,169.8M373.4,184.6 378.3,184.2 380.7,181.8 384.2,184 381.8,185.3 376.6,186 373.4,184.6 373.4,184.6M335.7,156.6 337.2,157.9 340.6,157.3 344.7,157.5 345.4,159.4 343,161.2 329.9,161.8 320.2,163.5 314.3,163.6 313.8,162.3 321.8,160.6 304.4,161.1 299,160.4 304.2,156.6 307.9,155.5 318.8,156.8 325.6,159.1 332.3,159.4 326.8,155.7 330.4,154.3 334.4,154.7 335.7,156.6M373.2,154.6 376.1,156.4 376.3,158.4 374.5,161.2 368.1,161.6 364,161 364.1,158.8 357.7,159.1 357.5,156.1 361.6,156.2 367.5,154.9 372.9,155.1 373.2,154.6M382.8,139.6 385.5,138.4 389.4,138.1 387.7,137.2 396.7,137.1 401.6,139.1 408.1,139.9 414.5,140.7 417.5,143.2 422.2,144.5 416.9,145.6 409.7,148.5 402.9,148.8 394.9,148.3 390.7,146.7 390.8,145.4 393.8,144.3 386.8,144.4 382.5,143 380.1,141.3 382.8,139.6M366,149.5 368.7,150 362.4,149.6 356,148.3 347.4,148.2 351.1,147 346.4,146.1 346.2,144.6 353.7,145.1 364.2,146.6 367.1,148.4 366,149.5M377.7,146.4 379.9,146.7 384.5,148 383.5,149.4 377.8,150.2 374.6,149.3 373,147.9 372.7,146.3 377.7,146.4M304.8,151 304.3,154 301.3,155.3 297.7,155.5 290.5,157.2 284.3,157.8 279.1,156.9 279.1,156.9 285.7,154 293.6,151.5 299.5,151.6 304.8,151M323.9,149.1 329.3,149.7 328,150.8 320.8,151.9 315.1,150.7 318.3,149.5 323.9,149.1M325,146.6 330.1,147.3 325.4,148.1 318.9,148.1 319,147.5 323,146.4 325,146.6M460.1,167.8 455.1,169.3 446.6,170.1 441.1,167.8 441.5,166.3 452,166.4 458.9,168.6M58.4,777.3 58,775.8 74,774.7 97.9,773.1 124.6,776.6 151.2,777.9 177.9,780 201.8,777.3 177.9,775.8 159.2,772.5 161.9,767.2 147.2,764.1 164.5,761.9 185.8,763.2 188.5,758.7 169.9,756.6 148.5,753.9 140.6,748.6 159.2,747.3 175.2,745.9 188.5,743.3 191.1,740.6 207.1,739.3 231.1,737.4 260.4,735.8 284.4,737.4 311,734.7 321.7,737.9 337.6,739.3 364.3,739.3 366.9,736.6 353.6,732.6 358.9,727.8 381.6,728.6 377.6,732.6 401,732.1 366.2,732.1 381.7,735.2 396.7,733.6 409.1,731.3 424.5,734.8 441.9,734.8 452.3,734.4 459.3,736.6 464.3,736.3 472.4,734.4 491.1,732.1 493.7,727.4 489,721.6 489.8,713.5 492.5,712.4 494.1,709.3 504.1,704.3 510.3,700.4 518,698.5 530.4,695.4 532.7,696.2 527.3,698.9 519.6,699.2 512.2,702.3 513.8,706.6 507.6,707.7 500.6,712 501.4,715.1 506.6,717 511.8,721.2 514.9,724 518,729 519.2,733.6 516.5,737.1 509.1,739 504.9,741.7 494.1,743.7 484,745.2 474.8,747.1 461.6,749.5 452.7,753.7 457,757.9 462.4,761 483.2,763.7 499.9,765.7 515.7,767.6 526.9,770.7 546.6,768.8 570.9,766.4 588.3,763.7 613.4,764.1 637.4,762.2 643.5,761 638.9,757.2 616.1,757.9 615.3,753.3 622.7,751.8 642,747.1 666.7,744.8 680.6,742.1 686,739.4 693,738.6 694.1,733.2 702.2,731.7 711.1,727.1 720.4,727.8 727,724.7 737,727.1 746.7,725.9 757.1,726.3 769.4,724.7 777.9,723.2 790.3,721.3 801.5,722 815,721.3 828.1,720.9 845.1,723.2 858.3,723.2 873.3,720.1 884.5,715.5 902.7,720.5 908.1,717.8 919.3,715.5 933.2,712 946.3,710.1 949.8,709.3 953.7,706.6 971.4,705.7 974.9,708.5 985,711.2 997.7,712.8 1015.9,713.1 1022.4,718.2 1015.5,722.4 1020.5,724 1019.7,728.6 1027.8,729.4 1035.9,724 1039,720.9 1053.3,719.3 1059.1,714.7 1070.7,711.2 1088.8,710.4 1095,707.7 1107.4,710.1 1120.5,710.4 1134.8,710.1 1143.3,708.1 1150.6,704.3 1163.8,709.3 1171.1,709.5 1179.2,708.5 1192.4,705.4 1200.1,708.5 1211.7,710.4 1220.6,710.4 1226,708.1 1240.6,708.1 1258.8,707.4 1274.2,706.6 1279.6,707.4 1297.4,708.9 1306.3,708.9 1318.3,710.4 1315.6,712 1319.8,713.5 1342.6,717 1349.6,715.9 1359.2,718.9 1374.7,722 1382,724 1399.8,724.3 1412.1,726.7 1414.4,729.4 1407.5,735.5 1400.1,737.5 1393.2,740.6 1385.5,745.2 1387.8,750.2 1397.1,753.3 1378.5,756.8 1370.8,763.4 1377.7,767.6 1390.9,770.3 1405.9,772.6 1419.1,775.3 1433.3,776.1 1448.8,777.3M120.6,755.2 125.9,752 135.2,752.9 139.2,756.1 133.9,758.7 124.6,758.2 120.6,755.2M463.6,727.3 474.2,724.1 478.2,716.6 483.6,716.6 488.9,724.6 492.9,729.9 480.9,729.9 463.6,728.6 463.6,727.3M497.4,759.2 507.5,758.7 516.8,759.8 520.8,757.1 524,759.8 520.8,763.2 512.8,762.4 498.2,761.9 497.4,759.2M543.5,760.6 555.5,755.2 566.1,751.3 576.8,750.7 584.7,755.2 586.1,759.8 574.1,761.4 560.8,761.9 544.8,762.4 543.5,760.6M454.3,746.4 467.6,747.3 469.7,750.7 463.6,752.6 455.6,750.7 454.3,746.4"/></g></defs>
<g transform="translate(0,0)">
<text class="t" x="744" y="88.4">Combined (GIM), 2023-08-30 00:00 UT</text>
<g clip-path="url(#cp)"><rect x="58.4" y="113.4" width="1371.1" height="675.0" fill="#00009f"/>
<path fill="#0000e3" fill-rule="evenodd" d="M52.4 107.4l1386 0 0 687 -1386 0zM1024.4 455.3l-3 1.5 -0.8 1.6 0.1 3 1.2 3 2.5 3.6 18 18 6 9.3 1.5 5.1 0.5 6 -1.6 9 -3.4 6.5 -3 3.2 -6 4 -15 5.1 -18 4 -3.1 1.2 -2.3 3 0.7 3 2.8 3 4.9 3.3 12 6.1 15 6.2 6 1.2 6 0 6-1.8 9-5 9-6.2 15-12 9.1-12.8 4.9-9 1.6-6 -0.3-9 -3.3-9.6 -7.9-11.4 -2.6-6 -3.1-3 -16.4-9.8 -12-5.6 -12-2.9zM1045.4 590.1l-6 2.8 -17.6 12.5 -15.5 9 -41.9 18.1 -66 30.6 -12 4.2 -12 3.1 -27 5.1 -30 4.6 -9 2.4 -9.9 3.9 -3.4 3 -0.9 3 2.2 4.1 3 2.3 6 3 18.6 5.6 15.1 3 103.6 15 51.7 6.7 36 2.7 33-0.4 40.6-3 14-3 7.5-3 4.2-3 1.9-3 0.4-3 -1.5-3 -4.1-3.5 -14.5-8.5 -8-6 -4.3-6 -1.7-6 0.2-3 2-6 3.6-6 10.7-14.4 4.2-9.6 1-6 -0.5-6 -1.7-5.8 -1.8-3.2 -4.2-6 -6.2-6 -8.8-6 -12-6.1 -15-6.4 -9-2.8 -9-0.8z"/>
<path fill="#0014ff" fill-rule="evenodd" d="M52.4 107.4l1386 0 0 687 -1386 0zM307.4 761.4l-42 1.3 -21 1.5 -17.8 3.2 -3.2 2.6 -2.4 0.4 23.4 3.7 27 1.9 36 3.8 51 1.9 78 0.7 51-0.4 27-1.7 21-3.2 0.7-0.7 -6.1-3 -30.6-3.5 -126-6.6zM988.4 182.3l-36 4.5 -30 6.2 -22.5 7.4 -29.3 12 -5.8 3 3.8 3 11.1 3 36.7 4.7 12 2.5 45 15.1 9 2.2 9 0.6 6.7-1.1 9-3 12.7-6 9.8-6 7.9-6 7.9-7.5 6-7.9 3-6.6 1-5 -1-6.2 -3-3.6 -3-2 -6-2.4 -9-1.9 -12-0.8zM1033.4 347.3l-18 6 -9 6 -8 9.1 -10 14.7 -9 16.1 -6 13.5 -3.7 12.7 -4.8 24 -7.8 21 -7.7 14.1 -9 10.5 -12 9.5 -15 8.8 -55.5 23.1 -23.7 12 -29 18 -7.3 6 -5.2 6 -1.6 6 0.6 3 1.7 3.1 3 2.9 5.2 3 7.9 3 13.9 3.3 45 5 15 2.8 6 2.8 3 3.4 0.5 3.7 -0.7 3 -1.8 3 -4 4.4 -5.9 4.6 -11.2 6 -8 3 -10.4 3 -14.6 3 -20.9 3 -25 2.3 -21 3.7 -24 6 -6.6 3 -10.2 6 -7.2 6.5 -2.5 5.5 0.1 3 2.4 5.1 3 3.3 17.8 12.6 1.4 3 0.7 12 1.2 3 9.3 3 38.6 7.8 33 5.5 42 5.5 54 3.8 57 1 69-0.7 42-1.3 42-6.3 29.3-6.3 18-6 5.1-3 3-3 1.6-3 0.2-3 -1.2-3 -2.3-3 -7.9-6 -12.8-7.2 -9-6.3 -6-5.4 -3.9-5.1 -2.6-6 -0.9-9 1-6 6.6-24 0.1-9 -1.6-6 -3.1-6 -4.6-5.7 -24-20.4 -3.3-3.9 -3.3-6 -1-6 1.7-9 11.9-29.1 3.6-12.9 1.7-12 -0.2-12 -2.1-11.5 -4-12.5 -5-11.3 -6-9.5 -6-6.3 -3-0.5 -3 1.1 -6 4.5 -3-1.2 -0.3-0.8 0.1-51 -2.2-27 -2.2-9 -1.9-3 -16.2-12 -10.3-5.5 -6-1.6 -6-0.7 -6 0.4z"/>
<path fill="#0050ff" fill-rule="evenodd" d="M52.4 107.4l752.3 0 -0.7 3 -2.9 3 -16.7 4.5 -18 6.4 -9 4.8 -15.5 11.3 -16 9 -19.5 9 -18 6.3 -18 4.6 -30 5.3 -27 3.7 -57 6.1 -25.9 4 -14.7 3 -2.4 3 49 22.5 24 12.3 12 8.6 20.9 22.6 3.6 3 4.6 3 6.6 3 11.1 3 28.2 4.1 63 5.8 3 0.5 3 1.9 2 2.7 6.1 3 12.9 3.5 21 2.9 24 1.3 36 0.8 96-0.6 33 2.2 18 3.2 12 4.4 4.9 3.3 2.5 3 1.1 3 -0.2 3 -3.1 6 -5.2 6 -18 16.2 -18 20.2 -21 21.1 -17.7 14.5 -2.6 3 -1.8 3 -1.9 6 -1.2 12 -0.3 18 -0.6 3 -1.6 3 -9.1 12 -8.3 9 -10.1 9 -16.8 12.4 -13.8 8.6 -16.2 8.2 -18 7.6 -21 7.4 -30 8.4 -33.1 7.4 -137.9 43.3 -59.4 13.7 -6.6 2.7 -1.3 3.3 1.3 1.4 41.8 13.6 23.6 9 4.8 3 1.8 2.4 -0.1 3.6 -2.9 2.6 -6 3 -24 8.3 -36 8.1 -59.9 11 -6.1 2.8 -1.9 3.2 0 3 1.3 3 3.6 3.4 6 2.7 12 2.8 57 7.4 66 4 12 1.8 9 2.4 6 2.2 12 6.2 9 7.1 2.4 5 -0.1 3 -1.5 3 -3.8 3.1 -11.8 2.9 -15.2 1.1 -93 1.2 -135 5.1 -15 1.4 -84-2 -123-6.1 -39 0.4 -18.9 1.9 -14 3 -9.8 3 -53.3 22.3zM1377.7 107.4l60.7 0 0 687 -344.2 0 1.1-6 4.7-6 8.4-5.5 8.2-3.5 19.6-6 53.2-13.9 18-5.8 12-4.8 6-3.3 6-5 4-6.2 0.7-6 -1.7-3.9 -5.1-5.1 -35.2-21 -7.3-6 -6.4-7.5 -3.5-7.5 -0.9-6 0.7-9 4.9-24 -0.2-6 -1.7-6 -3.5-6 -5.5-6 -20.3-15 -6-5.4 -3.1-3.6 -3-6 -1.3-9 0.5-9 9.4-39 2-15 -0.5-15 -4.4-21 1.7-3 4.7-2.9 1.2-3.1 -0.3-3 -8.1-18 -17-45 -10.6-21 -8-12 -11.2-13.7 -6-6.5 -14.6-12.8 -5.7-6 -4.4-6 -2.9-6 -2.2-9 0.2-12 3.4-15 5.8-18 2.7-6 4-6 7.7-7.1 6-7.7 3-2.1 12-7.8 63-37.1 12-6.5 12-5.5 24-7.9 27-6.3 33-6.2 67.7-10.8 32.4-6 11.3-3 7.1-3 3.2-3 0.4-3 -2.1-2.7 -14.2-6.3 -3.2-3zM675.4 623.4l19-2.4 18 0.3 7 2.1 2.5 3 0.1 3 -3.6 4.9 -6 3.6 -11.1 3.5 -9.9 1.5 -12 0.5 -12-1 -14.4-4 -6-3 2.9-3 6-3 8.1-3z"/>
<path fill="#008cff" fill-rule="evenodd" d="M283.4 127.6l66-3 54-0.2 66 1.8 18 1.3 24 3.2 18 3.7 9 3.1 3.4 2.9 0.9 3 -0.6 3 -3.7 3.9 -8.2 5.1 -6.8 3.1 -19.1 5.9 -22.9 5.1 -21 5.5 -27 9.9 -6.2 3.5 -1.1 3 0.5 3 3.3 6 3.5 4.4 4.9 4.6 4.7 3 7.5 3 15.9 4.6 45.3 16.4 14.2 6 6.5 4 3 3 3.1 5 1.5 6 2.1 21 2.3 6.8 6 10.3 3 3.7 6 5.1 6.6 4.1 12.7 6 13.7 4.1 15 3.3 15 1.5 12 0.2 33-2.7 66-7.5 6-0.9 9-2.7 24 4.6 21 2.3 36 2.4 78 3.2 9.5 1.2 8.5 2 12 4.1 6 3.1 6 4.9 1.7 3.9 -0.3 3 -1.4 3 -6.9 6 -26.1 13.5 -15 8.6 -15 10.3 -9 7.8 -5.1 7.8 -2 9 0.8 12 4.8 21 0 3 -1.2 3 -9.8 9 -11.7 9 -14.2 9 -17 9 -16.6 7.3 -18 6.9 -45 14.6 -30 13.7 -30 11.6 -18.9 5.9 -20.1 4.6 -9 1.3 -6-1.3 -5.7 1.4 -18.4 6 -26.9 10.3 -57 18.7 -12 0.7 -48-1.7 -9 1.1 -3.1 0.9 -2.9 2.1 -2.7 3.9 -0.2 3 2.7 6 6.2 7 15.3 14 2 3 -0.2 3 -4.3 3 -11.2 3 -22.6 5.2 -21.3 3.8 -23.7 6.1 -16.5 5.9 -4.7 3 -1.4 3 1.6 4.1 6.9 4.9 22.4 9 3.7 0.8 12-0.7 18 2.7 12 3.5 9 4.8 17.8 15.9 3 6 -0.6 3 -2.2 3.1 -4.3 2.9 -6.6 3 -10.3 3 -5.8 0.9 -21 2.1 -12 0.4 -12 1.9 -45 0.4 -48-1.6 -117-10 -33-0.6 -21 0.8 -21 1.8 -57 7.8 0-573.8 6 0.4 4.7-0.5 88.3-16.1 78-11.7zM1396.4 168.2l33-5 9 0.1 0 586.5 -9-2.1 -3-0.1 -27 2.6 -39 2.5 -18 0 -21-1.8 -12-2.9 -9-5.3 -14.7-14.3 -7.7-6 -41.7-27 -12.5-9 -6.7-6 -4.6-6 -2.1-5.1 -0.6-3.9 0.9-6 2.7-5.8 9-10.4 15-12.3 4.4-4.5 2-3 1-3 0.1-3 -0.8-3 -3.7-4.5 -6.9-4.5 -35.1-14.3 -15-7.9 -9.4-7.8 -5.6-8.9 -1.5-6.1 -0.4-9 4.2-36 -0.1-18 -1.5-9 -6.3-21 -1.1-6 -2.3-2.7 -3.2-6.3 0.2-3 5.8-3 0.6-3 0.2-18 -2.4-12 -1.2-4 -12.8-23 -8.8-18 -6.3-9 -17.2-21 -7.5-12 -6.3-15 -1.6-6 -0.5-6 8.1-30 3.7-9 3.4-6 6.8-8.1 7.8-6.9 7.2-4.8 9-4.4 15-5.1 21-5 67.7-10.7 34.3-7.1 21-5.8 39.8-14.1 29.5-9z"/>
<path fill="#00c8ff" fill-rule="evenodd" d="M286.1 158.4l33.3-1.7 12 0.4 6.8 1.3 4.1 3 3.2 6 3.4 21 2.4 9 3.7 6 6.4 5.5 6 3.5 20.9 9 12.1 6.2 37.2 8.8 16.8 5.6 10.9 6.4 7.1 5.7 3 3.3 3.4 6 5 18 3.6 8.2 4.2 6.8 11.8 15 5.9 12 0.6 9 -5.5 21 -0.3 6 0.7 3 4.2 6 4.2 3 7.2 3.3 6 1.4 6 0.5 18-1.5 60-14.3 92.9-19.4 45.1-6.8 21 0.3 29.6 3.5 29.7 6 10 3 5.7 2.7 3.8 3.3 1.2 3 -0.1 3 -1.1 3 -2.5 3 -7.3 5.4 -39 21.7 -6 4.9 -3 3.4 -2.9 6.6 0.2 6 2.7 6.7 3 4.2 10.3 10.1 4.9 6 5.6 9 -0.7 3 -11.5 12 -15.4 12 -19.8 12 -18.4 9 -42 16.2 -27 9.3 -21 6.3 -36 9.4 -18 5.8 -15 6 -27.8 13 -17.2 6.4 -18 4.7 -18 2.7 -21 1.3 -36-0.1 -18 0.8 -19.9 2.2 -11.7 3 -4.5 6 -2.5 6 0 3 2.3 12 -0.8 6 -1.9 4.3 -5.3 4.7 -6.8 3 -11.2 3 -64.1 15 -14.6 5.4 -4.5 3.6 -1.5 3 0.5 3 2.5 3.3 9.4 5.7 20.4 9 47.4 18 12 6 3.8 2.6 2.7 3.4 -0.3 3 -3.3 3 -5.1 2 -12 2.5 -12 0.7 -48-0.8 -54-3.7 -63-5.7 -48-2.2 -36 0.9 -51 4.7 0-466.2 9.8 2.8 38.2 4.6 51 7.8 33 3.3 20.3-0.7 12.7-2.7 7.4-3.3 3.8-3 1.7-3 -0.1-3 -0.8-1.7 -6-5.3 -9-4.7 -12-4.5 -24-5.9 -42-4 -19.9-3.9 -31.1-8.1 -33-9.7 0-6.3 4.5-2.9 10.8-3 60.4-12 39.9-6zM1413.7 239.4l24.7-3.2 0 378.4 -9-2.9 -21 0.7 -18-0.5 -54-4.9 -15-2.8 -18-5.5 -18-7 -42-18.1 -18.9-10.2 -7.3-6 -4.1-6 -3.7-12 -5.7-27 -5.3-17.6 -8.4-18.4 -13.5-24 -5.1-16.6 -3-13.5 -1.1-8.9 -0.2-12 2.1-24 -2-9 -1.8-3.5 -4.2-5.5 -22.3-21 -9.1-12 -3.4-7.5 -1.7-7.5 0.1-9 1.6-3.7 7.8-11.3 10.2-12.8 11.5-11.2 8.9-6 6.6-3.4 9-3.4 9-2.3 27-3.5 36-2 27-0.3 54 0.9 39-0.9zM1433.3 632.4l5.1-2.5 0 98.4 -12 0.4 -39-4.8 -45-9 -24-6.4 -17.7-7.1 -27.1-15 -12.2-9.4 -3-3.5 -2.6-5.1 -0.3-3 1.1-3 1.8-2.4 3-2.2 11-4.4 16-3.8 39-6.2 57-5.8 42-3.4z"/>
<path fill="#19ffde" fill-rule="evenodd" d="M1365.1 263.4l61.3-2.3 12 0.4 0 304 -9 0.8 -18 9.3 -16 5.8 -11 2.2 -12 1 -15-1 -15-3 -24.6-8.2 -20.3-9 -20.5-12 -22.1-15 -17.5-13.9 -12-12.2 -9-13.3 -13.4-26.6 -8.3-12 -3.2-6 -2.1-1.9 -3-4.6 -3-7.3 -1.8-7.2 -0.6-9 1.1-9 4.3-12.6 9.9-20.4 1.8-9 -1-9 -2.7-6 -4.8-6 -18.9-15 -8.3-8.4 -3.7-6.6 -1.6-9 0.4-6 0.8-3 1.1-1.5 3-1.5 9-1.9 6-2.2 24-10.9 19.2-6 19.8-3.8 27-3.6 54-4.9zM52.4 547.9l0-276.3 6 0.3 36 4.2 117 17 72 8.5 39 6.3 12 1.1 9 2.4 27 4.8 27 2.5 48 2.2 12 1.8 9 4.2 4.5 5.5 2.1 6 3.7 21 2.8 6 2.3 3 8.2 6 5.7 3 18.7 9.5 9 3 21-1.5 48-5.9 24-2.2 57-3.5 12-0.1 9 0.8 6 2.2 4.1 3.7 2.7 6 2.4 12 2.8 8.8 6 9.6 6 5.5 3 1.9 6 2.8 9 2.7 9 6.1 5.4 4.6 5.5 6 1.1 3.4 -2.4 5.6 -4.5 6 -13.8 15 -5 3 -27.1 12 -31.2 12 -19.2 6 -28.8 7.5 -21 6.4 -18 8.1 -27 17.6 -15 7.6 -18 6.3 -21 3.8 -27 2.1 -51 0.4 -30 2.4 -6-3 -3-0.7 -57-3.8 -162-16.1 -48-2.6 -45-1.4 -21-0.5zM102.4 590.4l19-0.7 24 3.3 6 2.1 1.8 1.3 1.6 3 -0.8 3 -5.6 2.8 -24 1 -24-1.1 -9-1.8 -10.3-3.9 -0.6-3 7.3-3zM52.4 691.4l0-27 9 1.6 21 1.6 21 3.2 6 2.1 3 1.8 1.9 2.7 -0.3 3 -4.6 3 -14.7 3 -33.3 5.7 -3 0.3zM1374.9 668.4l48.5-1.2 9.3 1.2 5.7 2.3 0 21.5 -9 3 -3 0.3 -21-0.1 -39-2.1 -21-3.6 -9-2.9 -5.4-3.4 -1.4-3 0.9-3 5.9-3.1 15-3.5z"/>
<path fill="#49ffad" fill-rule="evenodd" d="M52.4 536.4l0-244.2 6-0.3 18 0.6 12.3 0.9 22.3 3 41.8 9 55.6 15.2 30 5.2 81 9.8 6-0.2 12-3.6 6 0.3 24 6.9 24.3 5.4 32.7 10.6 38.3 19.4 36.7 14.9 9 6.2 3 1 10 1.9 11 0.7 54-1.3 15 1.7 9 2.2 7 2.7 8 4.5 24 18.3 6 3.4 6 2.6 22.1 7.2 14.5 6 5.5 3 5.9 4.8 3.3 1.2 3.4 3 -6.7 0.6 -3 1.1 -9.6 13.3 -9.9 9 -4.9 3 -5.6 2.2 -9 1.5 -7-0.7 -8-3.2 -6-5.8 -13-18 -2-1.8 -3-0.3 -33 12.3 -12 3 -12 1.4 -12 0.1 -12-1.3 -33.1-7.4 -11.9-1.7 -9-0.1 -6 0.8 -4.2 1 -4.8 2.2 -4.8 3.8 -1.8 3 -0.2 3 1.3 3 5.5 4.7 3 1.7 9 3.2 36 6.4 12 3.4 12 6.1 5.9 4.5 6 6 3.7 6 0.9 6 -1.4 6 -3.7 6 -6.5 6 -10.1 6 -6.8 3 -12 3.6 -15 2.5 -27 1.9 -54 0.1 -24 2.1 -3-0.4 -6-2.9 -3-0.7 -39.9-3.2 -50.1-5.1 -123-14.7 -54-2.9zM1364.9 299.4l61.5-4.9 12 0.3 0 244.3 -12-1.4 -24 3.1 -24 1.1 -18-1.2 -15-2.7 -21-5.8 -24-9.4 -45-30 -15-11 -12.8-11.4 -13.5-15 -2.9-12 -0.3-6 0.7-6 4.2-12 6.5-12 6-15 9.4-18 14.7-20.9 6-6.5 9-7.9 6-4 9-4.6 23.3-10.1 21.7-10.5 15-5.9 9-2.4z"/>
<path fill="#7dff7a" fill-rule="evenodd" d="M64.4 339.2l60-5.5 15-0.7 12 0.3 15 1.6 21 3.1 48 8.9 96 15.6 3 0.1 3-1.5 1.6-1.7 1.4-3.3 3-2 3 0.5 12 3.9 30 12.5 30 4.4 21 8.6 15 5 18 4.4 24 4.5 3 1.5 6 4.7 3 1 24 1.1 39-0.3 9 0.7 9 1.8 5.9 2 5.5 3 6.3 6 3.5 6 1.4 6 -0.2 3 -2.7 9 -2.4 3 -14.9 9 -11.4 4.4 -15 2.3 -12 0.3 -12-1.1 -30-5.1 -18-0.3 -12 1.8 -9 2.9 -7.7 3.8 -7.8 6 -3.6 6 0 6 3.1 6 7 6.3 9 4.3 9 2.5 33 5 11.8 2.9 11.5 6 6.1 6 2.6 6 -0.3 6 -1.7 4 -4.2 5 -4.8 3.5 -9 4.5 -9 3 -9 1.9 -21 2 -57 0.3 -24 1.8 -12-3.6 -54-4.3 -48-4.9 -111-14.2 -54-2.8 -75-1.1 0-189.4zM1423.5 344.4l14.9-2.3 0 187.5 -12-0.7 -33 1 -21-0.9 -18-2.6 -15-5 -51-23 -30-15.8 -9.6-6.2 -7.6-6 -9.1-9 -4.3-6 -2.6-6 -0.5-6 1.7-6 3.3-6 10.7-13.4 15.8-16.6 1.7-3 0.4-6 1.3-3 10.5-9 9.3-5.9 9-4.8 12-5.1 12-3.8 12-2.8 51-8.1z"/>
<path fill="#adff49" fill-rule="evenodd" d="M123.2 353.4l19.2-0.3 24 2.6 24 4.1 75.1 14.6 62.9 10.3 3 0.1 2.1-1.4 3.6-9 3.3-2.8 3-0.2 39 17.1 15 5.7 15.1 4.2 23.9 4.4 33 10.4 6.9 3.2 11.1 7.2 6 2.4 3 0.3 6-1.7 14.5-11.2 3.5-0.6 9.6 0.6 29.4 3 14.3 3 6.3 3 3.8 3 2.6 3.3 1 5.7 -1 3.7 -4.5 5.3 -5.6 3 -7.9 2 -12 0.3 -12-1.2 -33-7.6 -15-1.4 -6 0.6 -9 2.4 -18 7.5 -6-3 -3 0.2 -3 2.6 -1.3 3.6 0.6 6 -1.3 3 -4 4.8 -6 1.9 -1.4 2.3 0.4 9 3.8 9 4.1 6 5.1 5.6 6 4.9 6 3.3 12 3.9 22.4 3.3 13.6 2.7 8 3.3 3.8 3 1.7 3 0.7 3 -0.5 3 -1.5 3 -3.2 2.7 -3 1.5 -5.2 1.8 -6.8 1.3 -17.1 1.7 -60.9 2.4 -21 1.8 -12-2.9 -51-2.4 -51-4.5 -39-4.6 -69-9.4 -15-1.4 -45-2 -72-0.9 0-164.1 39-1.4zM1384.4 370.2l54-7.2 0 159.8 -39-0.9 -33-3.3 -33.8-15.2 -43.4-18 -18.8-9 -12.2-9 -5.8-6 -4.3-6 -2-6 0.6-6 2.9-6 4.3-6 7.5-8.1 7.7-6.9 16.3-12.9 9-6 9-4.2 12-3.8 18-6.9 21-6.2z"/>
<path fill="#deff19" fill-rule="evenodd" d="M84.4 371.4l49-4.6 18 1.3 81 16.8 60 10 39 5.4 3-0.1 4.2-1.8 2.5-3 2.3-5.2 3-0.3 60 27.4 3-0.1 6-3.7 6-0.3 6 2 12 6.1 16.3 4.1 1.7 1.2 1 1.8 -0.9 3 -3.3 6 -8.8 10.4 -3 1.7 -6-2.1 -3 1.1 -6.6 9.9 -2.1 6 -0.8 6 1.2 9 5.1 12 9.2 13.3 13.9 16.7 1.8 3 -0.3 3 -3.4 2.1 -6 1.7 -39 7 -51 0.1 -36-2.2 -39-3.7 -96-13.2 -15-1.4 -45-2.1 -72-0.8 0-141.8zM1416.4 380.4l22-2.2 0 138.4 -21-1 -12 0.3 -36-11.7 -42-16.8 -21-9.8 -12.9-7.2 -8.7-6 -5.4-4.8 -3.4-4.2 -2.2-6 0-3 2.1-6 4.5-6 5.7-6 8.3-7 24-15.7 27-10.1 24-7.1 18-3.9z"/>
<path fill="#ffdb00" fill-rule="evenodd" d="M119 380.4l17.4-1.4 18 1.5 87 18.9 51 8.8 39 3.3 6-0.8 6-2.3 3 0.3 12 3.3 15 5.8 3 0.4 12-0.6 9 2.4 12 5 6-0.8 2.3 1.2 2.1 3 1.2 3 0.3 6 -8.9 23.7 -1 9.3 2 12 8 27 0 6.2 -1.5 2.8 -3.2 3 -7.3 4.3 -6 2.4 -33 3.1 -21 0.4 -33-1.7 -36-3.6 -30-3.8 -66-10.2 -18-1.8 -39-1.7 -75-0.9 0-120.5 39-3.2zM1372.4 405l57-11.5 9-0.4 0 116.7 -9 0.2 -21-4.3 -21-6.4 -24-8.8 -25.7-11.1 -17.7-9 -12.9-9 -5-6 -1.4-3 -0.3-4.7 1.4-4.3 2-3 6-6 7.7-6 19.9-12 20-9.3z"/>
<path fill="#ffa300" fill-rule="evenodd" d="M126 392.4l10.4-1.7 9-0.3 9 0.7 12 2 27 7.7 51 17.4 15 4.1 12 2.2 9 0.7 12-0.1 33-3.4 42 3.8 15-1.5 15 2.8 3.3 1.6 1.6 3 0.3 3 -2.8 12 -0.3 6 0.8 9 -3.1 24 0.2 6.1 3 8.6 0 8.4 -3-2.5 -3 1.9 -0.6 1.5 -8.4 7.4 -3 1.8 -7.4 2.8 -16.6 2.2 -21 0.3 -30-1.7 -35.9-3.8 -41.9-6 -45.2-7.4 -24-2.7 -18-0.9 -90-1.3 0-90.4 30-4.5zM1402.4 417.1l27-5.8 9 0.1 0 88.6 -9-0.1 -6-1.3 -26.6-7.2 -16.7-6 -13.8-6 -17.5-9 -9.6-6 -6.3-6 -1.2-3 0.2-3 1.5-3 7.3-6 15.5-9 13-6 15.6-6z"/>
<path fill="#ff6c00" fill-rule="evenodd" d="M152.7 407.4l7.7 0 9 1.2 18.1 4.8 14.5 6 12.2 6 39.2 22.4 9 3.5 9 2.2 9-0.2 9-1.9 21-9.2 18-4.8 9-0.9 9 0.1 9 1.2 8.6 2.6 5.4 3 3.5 3 2.5 3 4 8.5 0.3 9.5 3.8 21 -0.1 6 -0.8 3 -3.2 5.2 -3 2.6 -8.3 4.2 -12.7 2.8 -15 0.8 -30-2.3 -66.2-7.3 -77.8-10.3 -21-1.2 -81-1.1 -12-1.8 0-43.2 30-3.2 18-4.1 6-2.6 6-3.8 6-5.2 9-9.6 5.3-3.9 9.7-4.1zM1406.2 446.4l23.2-2.9 9 1.9 0 36.3 -9 2 -16.6-4.3 -14.7-6 -10.5-6 -3.7-3 -2-3 -0.1-3 2.6-3.4 3.9-2.6 6.7-3z"/>
<path fill="#ff3400" fill-rule="evenodd" d="M175.8 449.4l8.6-1.9 9-0.1 9 1.7 9 3 19.2 12.3 8 6 3 3 1.5 3 -0.6 3 -4.1 3.3 -9 2.6 -6 0.5 -9-0.4 -17-3 -18.7-6 -7.1-3 -5-3 -2.6-3 -1.4-3 -0.2-3 1-3 6-6zM326.4 464.4l8-2.1 6-0.4 6 1.4 3 2 6.1 8.1 2.9 5.7 0.7 3.3 -0.6 6 -4.4 6 -4.7 2.8 -3 0.8 -6 0.3 -6-0.6 -11.4-3.3 -7.3-3 -5.8-3 -2.5-2.1 -1.6-3.9 1.6-3.8 8.7-8.2z"/>
<use href="#coast"/></g>
<rect class="f" x="58.4" y="113.4" width="1371.1" height="675.0"/>
<rect x="58.40" y="831.4" width="81.25" height="68.3" fill="#00009f"/><rect x="139.05" y="831.4" width="81.25" height="68.3" fill="#0000e3"/><rect x="219.71" y="831.4" width="81.25" height="68.3" fill="#0014ff"/><rect x="300.36" y="831.4" width="81.25" height="68.3" fill="#0050ff"/><rect x="381.01" y="831.4" width="81.25" height="68.3" fill="#008cff"/><rect x="461.66" y="831.4" width="81.25" height="68.3" fill="#00c8ff"/><rect x="542.32" y="831.4" width="81.25" height="68.3" fill="#19ffde"/><rect x="622.97" y="831.4" width="81.25" height="68.3" fill="#49ffad"/><rect x="703.62" y="831.4" width="81.25" height="68.3" fill="#7dff7a"/><rect x="784.28" y="831.4" width="81.25" height="68.3" fill="#adff49"/><rect x="864.93" y="831.4" width="81.25" height="68.3" fill="#deff19"/><rect x="945.58" y="831.4" width="81.25" height="68.3" fill="#ffdb00"/><rect x="1026.24" y="831.4" width="81.25" height="68.3" fill="#ffa300"/><rect x="1106.89" y="831.4" width="81.25" height="68.3" fill="#ff6c00"/><rect x="1187.54" y="831.4" width="81.25" height="68.3" fill="#ff3400"/><rect x="1268.19" y="831.4" width="81.25" height="68.3" fill="#e40000"/><rect x="1348.85" y="831.4" width="81.25" height="68.3" fill="#9f0000"/>
<rect class="f" x="58.4" y="831.4" width="1371.1" height="68.3"/>
<line class="tk" x1="58.4" x2="58.4" y1="899.7" y2="914.7"/><text class="k" x="58.4" y="960.3">0</text>
<line class="tk" x1="219.7" x2="219.7" y1="899.7" y2="914.7"/><text class="k" x="219.7" y="960.3">10</text>
<line class="tk" x1="381.0" x2="381.0" y1="899.7" y2="914.7"/><text class="k" x="381.0" y="960.3">20</text>
<line class="tk" x1="542.3" x2="542.3" y1="899.7" y2="914.7"/><text class="k" x="542.3" y="960.3">30</text>
<line class="tk" x1="703.6" x2="703.6" y1="899.7" y2="914.7"/><text class="k" x="703.6" y="960.3">40</text>
<line class="tk" x1="864.9" x2="864.9" y1="899.7" y2="914.7"/><text class="k" x="864.9" y="960.3">50</text>
<line class="tk" x1="1026.2" x2="1026.2" y1="899.7" y2="914.7"/><text class="k" x="1026.2" y="960.3">60</text>
<line class="tk" x1="1187.5" x2="1187.5" y1="899.7" y2="914.7"/><text class="k" x="1187.5" y="960.3">70</text>
<line class="tk" x1="1348.8" x2="1348.8" y1="899.7" y2="914.7"/><text class="k" x="1348.8" y="960.3">80</text>
</g>
<g transform="translate(0,985)">
<text class="t" x="744" y="88.4">Ionosphere  (h=450.0 km), 2023-08-30 00:00 UT</text>
<g clip-path="url(#cp)"><rect x="58.4" y="113.4" width="1371.1" height="675.0" fill="#00009f"/>
<path fill="#0000e3" fill-rule="evenodd" d="M52.4 107.4l1386 0 0 687 -1386 0zM1042.4 340.6l-9.2 3.8 -13.5 9 -10.3 9.5 -15 16.1 -15 12.3 -9 5.6 -20.8 10.5 -6.2 4.4 -6 7.6 -2.7 6 -5.5 21 -2.4 6 -7.4 8.7 -9 6.7 -12 7 -18 8.9 -15 6.1 -22.5 7.6 -13.7 6 -9.1 6 -20.7 16.4 -9 6.1 -15 8.3 -21 9.7 -12 4.2 -23.4 3.3 -24.7 6 -20 6 -14.8 6 -11.7 6 -12.4 9 -5.3 6 -1.1 3 0.7 3 2.9 3 7.8 3.5 9 2.3 9 1 15-0.2 42-3.4 18-0.7 6 0.2 30 3.8 21 0.1 27-3.6 28.9-6 23.2-6 48.8-15 19.1-4.4 15-2.1 15-0.4 11.4 0.9 15.2 3 9.1 3 6.3 3.3 3.1 2.7 1.9 3 1.1 3 0 3 -3.1 6.8 -5.5 5.2 -9.5 5.7 -13.1 6.3 -74.2 30 -16.8 6 -15.9 4.6 -15 3 -18 2 -60 2.5 -18 3.6 -9 3.7 -3 2.6 -1.4 5 0.8 3 6.6 7.6 10.4 7.4 13 6 9.6 3 45.8 9 19.2 3 26.8 3 134.6 12 34.6 1.5 27-0.6 9 0.4 16.8-1.3 20.9-3 10.3-2.5 9.9-3.5 5.1-2.7 3.5-3.3 0.8-3 -1.3-3.5 -3.3-2.5 -29.7-13.1 -7.9-4.9 -7.1-6.8 -2.8-5.2 -0.5-3 0.1-3 1.6-6 10.7-21 2.9-10.2 0.3-7.8 -2.4-9 -3.9-7.5 -12.8-16.5 -7.5-12 -2.2-6 -0.4-6 0.6-3 3-6 16.3-22.5 6-10.8 3.9-11.7 1.8-15 -1.8-15 -3.9-13.8 -6-16.7 -6.5-14.5 -0.6-15 1.6-18 0.1-9 -0.6-7.8 -1.6-7.2 -3.6-9 -3.8-5.3 -3-2.7 -9-5.6 -12-14.8 -7.5-7.6 -4.5-3.1 -6-1.9 -6-0.1z"/>
<path fill="#0014ff" fill-rule="evenodd" d="M52.4 107.4l1386 0 0 687 -627.1 0 1.3-6 2.4-3 4.3-3 12.3-6 8.5-3 13.4-3 28-3 48.8-3 130.1-5.1 36-2.7 39-6 36-8 28-8.2 8-3.6 3.5-2.4 2.5-3 0.6-3 -0.6-2.3 -3-3.8 -12.6-8.9 -32.4-18.8 -6.5-5.2 -5.5-6.5 -2.8-5.5 -1.4-6 0-6 2-21 -0.5-9 -1.3-6 -4.6-12 -12.1-21 -3.8-12 -0.5-6 1-8.5 12.6-33.5 2.4-12 0.7-12 -0.5-9 -1.7-12 -8.1-30 1-9 -2.7-18 -2.6-27 -3-12 -5.2-12 -24.8-36 -10.2-18 -4.3-15 -3.3-15 -2.1-12 -1.4-15 -0.2-12 0.7-9 3.4-15 6.1-12 13.4-15 5.6-9 1.8-6 0.1-3 -1.7-6 -3-4.2 -6-5.6 -6-3.9 -6-2.2 -97.5-8.1 -37.5-1.6 -51 1.9 -21 2.3 -19.7 3.4 -19.3 4.3 -16.9 4.7 -49.1 18.9 -33 9.8 -36 5 -28.9 2.3 -22.1 3 -8.5 3 -3 3 -1 3 1.2 6 2.3 5.4 10.3 15.6 6.9 12 2.8 9 -0.1 6 -2.2 6 -5.4 6 -12.3 8.1 -18 9.9 -6 5.3 -3 4.2 -2.8 8.5 0.8 6 1.5 3 3.2 3 6.3 2.4 9 1.3 10.1-0.7 10.9-3 14.9-6 15.1-7.3 15-5.3 18-3.6 24-1.7 34.3 2.9 13.7 0.5 33-0.8 66-3.7 21 0.4 39 2.4 18 2 12 2.8 5.2 2.4 3.8 2.9 1.8 3.1 0.6 3 -2 6 -8 9 -12.7 12 -12.3 9 -17.1 9 -30.6 12 -13.4 6 -22.2 12 -8.4 6 -2.6 3 -1.1 3 0.1 3 7.9 16.5 2.2 7.5 0.6 6 -1.2 3 -4.8 3 -59.8 28.9 -30 17.2 -26.6 13.9 -9.4 6.1 -48 23 -60 27.3 -27 11.3 -9 2.2 -6-0.8 -24 1.9 -59.4 7 -18.3 3 -5.4 3 0.2 3 1.9 2.5 9 6.9 18 9.8 25.8 10.8 9 6 2.3 3 0.8 3 -1.9 5.5 -3 3.3 -6 4.5 -12 6.5 -30 13.4 -3 2.7 -0.9 3.1 0.7 3 3.2 3.3 6 3.4 9 3.4 9 2.3 15 2.6 90 7.6 11.4 1.4 14.7 3 26.4 9 7.5 3.1 9 5 4.5 3.9 1.7 3 -0.2 3 -3 3.1 -9 2.5 -15 1.6 -75 2.4 -54-0.5 -141 3.4 -144-1.5 -57 1 -21 2 -15 2.6 -12 3.9 -6.3 3.5 -6.1 6 -3.5 6 -2.7 12 0.2 9 -83.6 0zM784.4 401l-11 3.4 -5.5 3 -2.4 3 1.2 3 5.7 5.2 9 4.4 6 1.2 9 0.5 18-1.5 12-3.8 4.6-3 1.8-3 -0.4-3 -2.6-3 -4.5-3 -7.7-3 -9.2-1.5 -9-0.4z"/>
<path fill="#0050ff" fill-rule="evenodd" d="M150.4 107.4l535.8 0 0.4 9 -1.2 7.6 -2.5 7.4 -3.4 6 -6.1 5.8 -4.9 3.2 -13.3 6 -20.6 6 -29.8 6 -33.4 4.7 -63 6.7 -22.6 3.6 -13.5 3 -20 6 -7.2 3 -5.7 3.8 -1.2 2.2 0.3 3 2.5 3 4.4 3.1 11.9 5.9 8.8 3 42.3 11 45 13.9 9 3.9 6 3.7 6 6 1.6 3.5 0.7 6 -2.3 8.6 -6 10.9 -9 13.2 -9 21.6 -4.1 5.7 -4.9 4.7 -24 17.1 -9 8.2 -4 6 -2.2 6 0.2 6 1.8 3 3.1 3 7.1 3.4 9 1.4 15 0.2 27-1.3 54-5.4 24-3.1 15-2.9 12-4.3 6-3.3 17.2-11.7 12.3-6 13-3 23.5-2.5 48 0.8 75-1.9 9.4 0.6 14.6 2.3 3 1.2 1.4 2.5 -1.4 3.2 -11.1 8.8 -5.2 3 -8.9 3 -17.8 3 -71 7.7 -30 5.2 -3.1 2.1 -2.9 6 -18 7.9 -9 6.3 -3.3 3.8 -2.2 6 0.6 6 3.3 6 2.9 3 4.7 3.2 6.9 2.8 11.1 2.4 3 1.3 4.2 8.3 1.8 1.7 13.6 7.3 7.4 5.2 2 3.8 -0.4 6 -1.6 4 -4.6 5 -6.9 6 -16.1 12 -23.8 15 -32.4 18 -21.2 10.6 -21 8.3 -57 18.8 -18 5 -21 4.2 -21 2.6 -72 0.9 -13.7 3.6 -6.8 3 -3.5 2.6 -1.9 3.4 -0.2 3 2.1 4.9 9 10.2 21 19.7 2.8 4.2 0 3 -2.2 3 -3.6 2.6 -12 5.5 -15 5.1 -27.9 7.8 -8.1 3.8 -3 2.2 -0.7 3 1.1 3 15.6 12 36.6 21 22.4 10.6 6 4.1 2.2 3.3 0.2 3 -1.9 3 -3.5 2 -3 1.2 -13.5 2.8 -46.5 3.5 -195-3.8 -54 1.2 -24.7 2.1 -19.9 3 -28 6 -32.4 8.4 0-615.4 6 0.5 3-0.5 33.1-8 21.5-6 29.4-10.9 3-2.1zM487.4 467.3l-5.5 3.1 -3 3 -1.6 3 0.2 3 2.5 3 4.1 3 6.3 2.6 12 2 15-0.7 3.8-0.9 5.2-2.9 1.9-3.1 0.1-3 -2-3.8 -6-4.8 -6-2.7 -12-2.2 -9 0.3zM1432.2 143.4l6.2-2.4 0 639 -9-3.1 -3-0.4 -102 0.6 -30-0.7 -21-1.3 -42 0.3 -21-1.1 -15-2.3 -2.8-1.6 0.3-3 4.5-3 17.4-9 28.6-12.9 9-5.5 6.1-5.6 2.8-6 -0.3-3 -2.6-4.3 -6-5 -10.3-5.7 -31.7-14.7 -10.4-6.3 -10.2-9 -4.2-6 -2.5-6 -1.5-9 1.4-21 -1.5-12 -2-6 -4.1-9 -10-15.7 -4.2-8.3 -2.3-6 -1.7-9 0-6 1.3-9 7.2-30 1.8-21 -0.5-12 -1.9-12 -3.3-12 -5.7-15 -3.7-18 -0.1-6 1.1-7 6.6-20 0-9 -3.2-9 -4.1-6 -8.1-9 -15.2-14.5 -7.4-9.5 -6.5-12 -3.2-12 -0.6-12 1-12 11.7-51 2.8-6 5.2-7.3 6-5.4 12-7.7 15-8.2 42-21 21-9.4 15-5.5 33-8.9 45-8.5 45-6.1 60-6.7z"/>
<path fill="#008cff" fill-rule="evenodd" d="M331.4 133.3l45-2.5 84 0.2 30 2.2 12 2.4 3.7 1.8 0.3 3 -3.6 3 -44.9 18 -18.2 6 -11.5 3 -30.8 5.1 -15 5.1 -12 6.7 -6 4.7 -3.3 5.4 -0.2 3 1.2 3 2.3 3 3.9 3 8.1 4.1 6 2.1 18 3.8 15 4.7 18.3 6.3 21.7 9 17.7 9 7.2 6 4.1 5.3 3.4 6.7 2.4 9 0.8 18 4 21 -0.8 9 -2 6 -4.4 9 -7.4 12 -3.2 9 -0.1 6 1.3 4.5 2.5 4.5 5.4 6 7.1 4.9 6 2.7 6 1.9 9 1.6 12 0.7 48-1.6 15 0.3 24 2.7 8 1.8 8.7 3 5.7 3 7.2 6 4.6 6 7.8 14.1 9 10 15 11.2 9 3.7 4.7 3 10.3 8.5 2.3 3.5 1 3 -0.3 4.3 -2 4.7 -7 9.6 -20.2 20.4 -7.1 6 -9.4 6 -29.3 15.7 -21 6.6 -42 15.7 -21 5.3 -21 2.8 -27 1 -45-1.2 -18 0.2 -18 1.6 -15 3.7 -12 11.6 -1.5 3 -0.3 3 2 6 8.8 12.4 4.5 8.6 0.3 3 -0.7 3 -4.4 9 -4.3 3 -64.4 18.2 -9 3.6 -3.2 2.2 -1.4 3 0.6 3 1 1.3 6.5 4.7 73.4 33 4.4 6 -1.8 12 -1.5 3.2 -3 0.9 -12 0.4 -54-0.8 -120-4.9 -45-0.8 -24 0.7 -27 1.7 -63 7.1 0-559.1 66-5.4 51-5.6 48.3-7.4 53.7-10.3 33-5.4zM493.4 453.7l-18.5 4.7 -5.5 2.5 -6.7 6.5 -3 6 0.2 6 2.8 6 3.7 3.6 9 4.6 9 2.6 12 1.9 24 1.4 18 0.2 18-0.7 16-1.6 13-3 4.6-3 -0.1-3 -5.1-3 -28.4-10.5 -22-10.5 -17-7.1 -9-2.6 -6-1zM1426.2 176.4l12.2 0.8 0 564.8 -12-1.8 -39-1.9 -24-2.4 -18-3.3 -21-5.9 -15-5.7 -15-6.6 -43.4-22 -14.2-9 -7.1-6 -5.2-6 -3.4-6 -1.5-6 0-3 1.8-6 7-9.6 9-8.4 6-6.8 3-4.7 1.3-3.5 0.1-6 -1.4-3.4 -5.9-5.6 -24-15 -6.1-4.8 -6-7 -2.9-6.2 -1.2-6 -0.1-6 3.2-33 -0.3-9 -1.3-9 -3.8-15 -4.6-12 -4.3-9 -10.5-18 -1.6-6 -1.1-9 0.2-9 1.3-7 4.1-11 6.6-12 2.5-6 1.4-6 -0.3-6 -2.5-6 -5.8-6.6 -27-19.8 -10-9.6 -5.2-9 -1.6-6 -0.8-9 1-9 1.9-6 5.7-11.2 7.1-9.8 7.9-9 9-8.3 9.5-6.7 11.5-6.3 13.1-5.7 16.9-5.7 21-5.4 31.1-6.9 13.9-4.1 15-6.5 30-16.4 14.6-6 9.4-2.9 27-6.1z"/>
<path fill="#00c8ff" fill-rule="evenodd" d="M112.9 197.4l29.5-1.7 24 0.9 5.2 0.8 8.2 3 2.5 3 -0.1 3 -3.8 3.6 -9 2.7 -15 2.2 -21 1.4 -18-0.1 -15-1.4 -9-2.1 -6.2-3.3 -0.7-3 4.6-3 7.6-3zM52.4 713l0-452.5 9 1.3 63 3.6 27 2.8 24 3.4 90 17.2 87 19.6 43.6 9 4.4 2.9 1.9 3.1 3 3 13.1 10.4 52.6 46.6 13.4 9.7 12 6.3 12 3.5 12 1.2 45-2.7 12 0.2 12 1.8 11.2 4 5 3 6.2 6 3.4 6 1.2 6 -0.7 6 -3.1 12 -7.5 9 -5.5 3 -7.2 1.9 -6 0.5 -9-0.1 -9-1.2 -21-4.5 -33-13.5 -6-0.7 -9 2.5 -18 9.6 -4.7-0.5 -7.3-6.4 -3 0.9 -6 8.1 -6 1.9 -1.5 1.5 -5.2 9 -1.6 6 0.8 9 4.3 9 5.4 6 6.8 4.4 6 2.2 9 1.9 60 8.1 24 5.9 9 3.9 4.3 3.6 1.9 3 0.8 3 -0.8 6 -4.4 6 -3.7 3 -5.3 3 -8 3 -23.8 4.9 -27 2.3 -72-1.2 -12 0.6 -18 2.3 -9-0.4 -30 1.2 -105-6.7 -66-3.3 -23.9 0.3 -21.3 3 -5.2 3 -0.4 3 2.8 2.4 6 2.6 27 8 67.3 17 40.6 12 18.1 6.2 3 2.8 -0.9 3 -4.4 3 -6.7 3 -19.3 6 -55.7 14.7 -6 2.2 -3 2.5 -0.6 1.6 0.4 3 2.6 3 13.1 9 25.6 12 51.3 21 1.4 3 -12 3 -12.8 0.7 -84-1.6 -57 1.6 -30 1.9 -48 5.7zM88.4 554.2l-14.9 0.2 -7.6 3 0 3 10.5 5.3 6 1.4 6 0.3 9-0.7 9-2 3.2-1.3 2.1-3 -3.1-3 -2.2-0.4zM1323.8 263.4l21.6-0.7 51 0.7 42-0.4 0 463.2 -12 0.8 -30.8-4.6 -28-6 -21.4-6 -16.4-6 -19.2-9 -15.6-9 -8.1-6 -4.5-4.3 -3-4.1 -1.5-3.6 -0.3-3 0.8-3 4-3.9 6-2.5 12-2.8 18-2.8 108-13.5 4.9-1.5 3.1-3 0.9-3 -1.7-3 -7-3 -27.2-4.3 -15-3.1 -12-3.3 -18-6.4 -51-20.7 -18-8.7 -12-7.5 -6-6 -3-5.5 -7.5-24.5 -7.1-15 -6.1-9 -39.1-51 -3.6-6 -1.1-21 1.3-9 1.9-6 4.1-9 3.2-5.1 17.8-24.9 3.9-9 0.4-6 -0.7-3 -1.9-3 -4.5-4.3 -6-3.5 -24.8-10.2 -5.4-3 -5.8-4.9 -3.4-4.1 -2.4-6 0.1-3 2.7-5.6 3.1-3.4 7.6-6 15.3-9 13.1-6 24.7-9 20.9-6 17.3-3.8 21-3.3z"/>
<path fill="#19ffde" fill-rule="evenodd" d="M78.3 296.4l16.1-1.5 21-0.3 18 1.3 15 2.9 11.1 3.6 9.9 4.7 6.5 4.3 10.3 9 8.4 6 7.8 4 9 3.4 9 2.3 12 1.4 33-0.6 15 0.5 18 2.4 18 3.4 21 6.7 41.2 18.5 30.8 10.7 12 5.2 56.7 32.1 6.4 6 2.9 5 1.1 4 -0.6 6 -1.3 3 -2.2 3.8 -3 2.9 -3-2.2 -3-4.5 -3-1.2 -3 0.6 -3 2 -6 8.2 -3 0.5 -6-2.1 -6 5.9 -5.3 7.1 -3.9 9 -0.8 6 0.3 6 2.6 9 5.7 9 4.4 4.6 6 4.4 12 4.9 15 3.2 24 3 21 3.5 13.3 3.4 5.1 3 2.4 3 0.8 3 -0.4 3 -3.2 3.9 -6 3.2 -9 2.8 -15 2.6 -21 1.2 -39-1.2 -18 0.1 -15 1 -18 2.6 -36-0.5 -24-1.4 -123-12.9 -45-3.8 -111-2.4 -12 0.5 0-226.1 6-1.6 9.8-8zM1360.4 340.3l78-15.7 0 216.3 -6-1.8 -6-0.4 -18 3.7 -7.3 3 -3.9 3 -1.9 3 -0.7 3 0.2 9 -0.9 6 -1.4 3 -2.6 3 -5.5 2.7 -6 1.2 -9 0.1 -9-1.5 -7.8-2.5 -6.5-3 -8.1-6 -4.7-6 -5.8-12 -3.1-4.7 -3.9-4.3 -10.3-9 -3.8-2.3 -12-5 -6-3.8 -30-22.6 -15-12.8 -7-7.5 -6.1-9 -5.7-15 0.2-3 7.9-15 22.7-29.7 6-11.8 4.6-6.5 7.4-7.2 21-15.2 18-9.7 21-7.5zM555.2 419.4l7.2-1.1 9-0.1 7 1.2 6.7 3 4.3 3.9 2 5.1 0 3 -2 5.9 -3 3.4 -9 4.1 -15-2.6 -3 0.7 -6 2.8 -3 0.3 -3-1.7 -6.5-6.9 -2.4-6 0.2-3 1.5-3 4.2-4.2 3-1.9zM52.4 686.5l0-15.7 9-0.4 15 1.5 9 3.2 2.7 2.3 0.4 3 -4.8 3 -13.6 3 -8.7 1.1zM1396.8 671.4l14.6-1.5 18-0.6 9 4 0 11.1 -9 3.3 -21-0.3 -21-2.8 -4.4-1.2 -4.7-3 0-3 4.3-3z"/>
<path fill="#49ffad" fill-rule="evenodd" d="M52.4 525.7l0-176.2 54 1.8 24 1.7 27 2.9 27 4.1 83.6 14.4 129.4 17.8 6 1.5 12 4.5 15 7.6 15.8 10.6 9.9 9 4.3 6.8 0.6 2.2 0.4 3 -1 4.9 -2.8-1.9 -3.2-4 -3 0.4 -3 2.6 -4.3 7 -10.2 12 -4.4 9 -1.7 9 0.7 9 2.8 9 4.8 9 4.1 6 5.2 5.8 6 4.7 6 3.6 15 6 25.3 6.9 -13.3 2.1 -24-0.9 -9 0.5 -20.2 4.3 -27.8 4.8 -36-0.2 -21-1 -30-2.7 -105-12.4 -39-3.7 -30-1.3zM1390.4 361.1l48-7 0 174.9 -9-0.4 -33 1.7 -24-2.3 -3 0.3 -9 3.1 -3 0.2 -6-1.3 -6-3.5 -9-7.1 -30-14.5 -15-8.8 -18.3-14 -9.2-9 -4.7-6 -4.3-9 -1.1-6 0.5-6 3.1-9 7.1-12 8.9-11.7 17.4-18.3 6.6-5.6 15-7.9 36-11.3z"/>
<path fill="#7dff7a" fill-rule="evenodd" d="M1389.8 374.4l3.6-1.9 3 0.5 6 4.3 24-3.9 12-0.7 0 149.2 -21 2.4 -15-1.8 -24-4.5 -6-0.2 -9 1.2 -3-0.6 -42-20.5 -15.4-9.5 -7.9-6 -9.5-9 -4.7-6 -2.9-6 -1-6 0.7-6 2-6 5.7-10 8.3-11 8.2-9 9.7-9 11.1-9 4.7-3.6 6-2.3 24 0 9-2.4 17.9-6.7zM52.4 517.9l0-143.1 42 0.4 30 1.2 30 2.8 15 2.9 12 1 30 4.6 51 9.5 26.7 4.2 50.2 6 64.1 5.8 9 2.4 9 4.3 9 7 3.2 4.5 2.8 11.2 -1.5 3.8 -6.8 9 -3.5 6 -2.5 6 -1.8 9 0.4 12 6.9 24 0.2 6 -1 3 -4.4 6 -4 3 -6 3 -9 3.3 -6 1 -33 0.8 -27-1 -30-2.6 -99-12.3 -39-3.9 -27-1.1z"/>
<path fill="#adff49" fill-rule="evenodd" d="M1381 386.4l6.4-2.3 3-0.4 9 4.3 3 0.7 6-0.2 12-1.7 9 0.6 9-0.4 0 127.7 -9 1.5 -9 2.6 -3-0.1 -57-18.5 -19.4-8.8 -19.6-11.8 -10.1-9.2 -5.9-9 -1.4-6 0.4-3 2-4.9 7.5-10.1 14-15 9.8-9 11.6-9 14.2-9zM52.4 390.1l63-1.1 39 2.2 36 5.8 74.1 16.4 34.9 6 32 3.5 66 3.4 3 1.5 2.2 3.6 2.2 9 0.3 27 -3 18 6.4 21 0.6 6 -1 6 -1.7 3 -3 2.7 -6 2.7 -24 2.8 -24 0.6 -21-0.9 -24-2.2 -105-13 -30-3 -27-1.1 -90 0.7z"/>
<path fill="#deff19" fill-rule="evenodd" d="M127.8 395.4l14.6-0.5 12 0.5 18 2.2 15 3.1 13.1 3.7 61.9 21.3 18 4.5 24 2.4 48 0 12.7 1.8 10.8 3 7.3 3 11.2 5.5 1.9 3.5 -1.9 1.6 -3 0.9 -6-0.3 -0.8 0.8 -0.8 3 7.3 39 0.2 6 -1.3 6 -1.6 3 -3 3.3 -3.9 2.7 -5.1 2.2 -12 2.7 -18 1 -21-0.9 -24-2.1 -114-13.8 -18-1.7 -27-0.9 -90 1.1 0-96.6 30-4 27-4.8zM1422.8 395.4l6.6-1.6 9 1.6 0 109.7 -6 0.7 -6-0.3 -9-2.8 -24-9.3 -17-8 -14.8-9 -12.2-9 -7-6.4 -1.7-2.6 -0.8-3 0.9-3 4.6-4.7 25.7-16.3 30.5-24z"/>
<path fill="#ffdb00" fill-rule="evenodd" d="M141.8 407.4l9.6-0.6 15 0.6 12.3 3 8.7 3 20.3 9 16.4 9 13.8 9 12.5 10.7 12 5.6 9 2.9 9 0.9 9-0.7 45-10.9 9 0.3 6 2 3 2.3 6 8.1 9 14.3 4 12.5 0.3 6 -1.3 5.1 -2.7 3.9 -3.3 2.5 -6 2.5 -9 1.9 -12 0.4 -21-1.2 -31.6-3.1 -115.4-13.3 -27-0.7 -81 2.1 -9-0.9 0-51.6 9-0.9 12-2.5 13.7-4.2 13.3-6.8 21-14.2 9-3.6zM1427.7 446.4l10.7 0 0 38.7 -1 0.3 -8 0.9 -3.6-0.9 -6.1-3 -9.3-6 -3.5-3 -4.5-5.9 -0.9-3.1 0.9-4.9 3.9-4.1 11.1-5.9z"/>
<path fill="#ffa300" fill-rule="evenodd" d="M195.7 461.4l9.7 2.7 6 2.9 2.5 3.4 -2.4 3 -3.1 0.3 -15-3.3 -4.1-3 0.3-3 3.8-2.9zM79.7 467.4l14.7-1.8 15 0.8 6 1.1 3 1.9 0.8 1 -0.2 3 -3.1 3 -8.2 3 -10.3 1.3 -12-0.3 -6-1.4 -4.5-2.6 -2.4-3 0.6-3z"/>
<use href="#coast"/></g>
<rect class="f" x="58.4" y="113.4" width="1371.1" height="675.0"/>
<rect x="58.40" y="831.4" width="81.25" height="68.3" fill="#00009f"/><rect x="139.05" y="831.4" width="81.25" height="68.3" fill="#0000e3"/><rect x="219.71" y="831.4" width="81.25" height="68.3" fill="#0014ff"/><rect x="300.36" y="831.4" width="81.25" height="68.3" fill="#0050ff"/><rect x="381.01" y="831.4" width="81.25" height="68.3" fill="#008cff"/><rect x="461.66" y="831.4" width="81.25" height="68.3" fill="#00c8ff"/><rect x="542.32" y="831.4" width="81.25" height="68.3" fill="#19ffde"/><rect x="622.97" y="831.4" width="81.25" height="68.3" fill="#49ffad"/><rect x="703.62" y="831.4" width="81.25" height="68.3" fill="#7dff7a"/><rect x="784.28" y="831.4" width="81.25" height="68.3" fill="#adff49"/><rect x="864.93" y="831.4" width="81.25" height="68.3" fill="#deff19"/><rect x="945.58" y="831.4" width="81.25" height="68.3" fill="#ffdb00"/><rect x="1026.24" y="831.4" width="81.25" height="68.3" fill="#ffa300"/><rect x="1106.89" y="831.4" width="81.25" height="68.3" fill="#ff6c00"/><rect x="1187.54" y="831.4" width="81.25" height="68.3" fill="#ff3400"/><rect x="1268.19" y="831.4" width="81.25" height="68.3" fill="#e40000"/><rect x="1348.85" y="831.4" width="81.25" height="68.3" fill="#9f0000"/>
<rect class="f" x="58.4" y="831.4" width="1371.1" height="68.3"/>
<line class="tk" x1="58.4" x2="58.4" y1="899.7" y2="914.7"/><text class="k" x="58.4" y="960.3">0</text>
<line class="tk" x1="219.7" x2="219.7" y1="899.7" y2="914.7"/><text class="k" x="219.7" y="960.3">10</text>
<line class="tk" x1="381.0" x2="381.0" y1="899.7" y2="914.7"/><text class="k" x="381.0" y="960.3">20</text>
<line class="tk" x1="542.3" x2="542.3" y1="899.7" y2="914.7"/><text class="k" x="542.3" y="960.3">30</text>
<line class="tk" x1="703.6" x2="703.6" y1="899.7" y2="914.7"/><text class="k" x="703.6" y="960.3">40</text>
<line class="tk" x1="864.9" x2="864.9" y1="899.7" y2="914.7"/><text class="k" x="864.9" y="960.3">50</text>
<line class="tk" x1="1026.2" x2="1026.2" y1="899.7" y2="914.7"/><text class="k" x="1026.2" y="960.3">60</text>
<line class="tk" x1="1187.5" x2="1187.5" y1="899.7" y2="914.7"/><text class="k" x="1187.5" y="960.3">70</text>
<line class="tk" x1="1348.8" x2="1348.8" y1="899.7" y2="914.7"/><text class="k" x="1348.8" y="960.3">80</text>
</g>
<g transform="translate(0,1970)">
<text class="t" x="744" y="88.4">Plasmasphere (h=1500.0 km), 2023-08-30 00:00 UT</text>
<g clip-path="url(#cp)"><rect x="58.4" y="113.4" width="1371.1" height="675.0" fill="#0000b6"/>
<path fill="#0018ff" fill-rule="evenodd" d="M367.4 136.5l30-2.5 6 0.8 12 4.7 12 5.8 21 13.1 13.9 6 23.5 6 37.6 7.3 9 3 8 4.7 6 6 3.9 6 2.2 6 0.7 6 -1.9 9 -6.9 13.7 -2.6 7.3 -0.4 6 0.8 3 2.2 4.6 4.1 4.4 4.9 3.2 9 2.2 12 0 57-6.6 109.1-7.8 27.2-12 36-18 10.7-6 21-13.8 15-8.1 9-3.6 9-2.5 12-1.8 12-0.5 30 1.6 60 8.2 30 2.2 15 0.2 18-1.1 39-4.2 54 1.4 24 2.3 18 3.4 21 5.7 88.1 28.6 32.9 9 30 6 71 12 6 0.6 9-1.9 0 308.4 -9-2.3 -18-0.8 -24 0 -21 1 -204 22.3 -24 1.5 -21-1.9 -24-5.3 -3-1.1 -7.7-5.5 -32.9-12 -10.4-3.1 -6-0.7 -6 0.2 -15 3.6 -24.2 9 -59.9 24 -26.1 12 -15.8 9 -45 31.2 -41.8 25.8 -9.2 6.9 -4.7 5.1 -3.1 6 -0.5 3 0.8 6 1.5 3.7 3 4.5 14.2 15.8 5.7 9 2.4 9 0.1 6 -1.1 6 -2.4 6 -3.9 5.8 -9 8.5 -9 5.6 -6 2.8 -21 6.2 -1.2 1.1 -1.3 3 -0.3 3 -354.1 0 -0.1-3.3 -1-2.7 -2-1.4 -3-0.4 -132-0.6 -24-1.6 -12-2.6 -6-3.2 -3-2.7 -3-5.5 0-4.2 3-7.6 18-24.8 4.7-8.4 3.1-9 0.7-6 -0.3-6 -2.2-8 -3-6.3 -22.1-33.7 -5.9-12 -2.6-12 0.6-18.2 -1.3-5.8 -3.3-6 -4.4-4.1 -7.9-4.9 -7.1-3.3 -15-4.2 -11.3-1.5 -10.3 0 -11.4 1.1 -21 3.8 -15 0.2 -6-1 -9-2.9 -24-11.1 -3-1 -6-0.2 0-310.8 36 9.9 26.4 6 21.6 3.7 22.5 2.3 19.5 0.6 20.2-0.6 24.8-2.6 14.7-3.4 9.3-4.2 2.4-1.8 2-3 0.7-3 -0.4-3 -1.7-4 -3-3.9 -12-11.8 -15-12.1 -54.8-34.2 -16.9-12 -6-6 -3.7-6 -0.4-3 0.7-3 2.4-3 4.6-3 7.9-3 21.2-4 27-2.2 66-1.9 21-1.3 21.4-2.6zM1248.6 677.4l18.8-0.8 18 1.5 18 3.5 15.6 4.8 12.6 6 4.9 3 5.9 5.3 3.2 6.7 -0.7 6 -2.5 3.9 -6 4.7 -15.4 6.4 -11 3 -15.1 3 -15.5 1.6 -12 0.2 -23.2-1.8 -16.7-3 -11.1-3 -8.6-3 -12.4-5.8 -6-4.3 -4.1-4.9 -0.9-3 0.9-3 4.1-5.8 6-5.4 6-3.7 9-3.8 12-3.8 12-2.6z"/>
<path fill="#0084ff" fill-rule="evenodd" d="M1087.4 238l24-3.1 18-0.6 15 0.3 15 1.4 18 3.1 13.5 3.3 10.5 3.1 45 15.9 24 5.7 21 2.2 54 1.5 26.8 1.6 24.2 2.6 42 6.2 0 248.8 -63 1 -102-0.5 -27-2 -9-1.6 -8.1-2.5 -6.9-3.1 -9-5.8 -29.3-27.1 -8.6-6 -11-6 -7.7-3 -12.4-3.2 -33-3.8 -18-3.2 -3-1 -4.6-3.8 -7.4-3.8 -5.6-5.2 -21.4-54.6 -5.7-11.4 -3.3-5 -4.1-4 -5.7-3 -8.2-1 -6 1 -6.6 3 -8.4 7.7 -6 9.5 -6 14.9 -4.4 18.9 -0.6 21 -2.5 9 -0.6 36 -2.5 21 -2.7 9 -4.8 9 -5.9 7.4 -8.5 7.6 -15.5 10.5 -42 23.3 -49.4 32.2 -25.6 13.5 -15 6.3 -18 6.2 -21 6 -30.7 7 -56.5 18 -16.5 6 -37 15 -12.4 6 -10.3 6 -7.8 6 -15.6 18 -8.2 5.6 -15 3.9 -21 1.5 -9-0.5 -9-1.4 -6.5-3.1 -1.9-3 -0.3-3 7.5-18 1.1-6 -0.8-6 -4.6-9 -6.6-9 -11.6-12 -10.7-9 -17.7-12 -25.9-13.9 -22.3-13.1 -67.3-33 -13.5-6 -16-6 -18.9-4.8 -15-2.4 -42-4.4 -30-4.4 -75.8-17 -30.9-6 -28.3-3 -33-0.3 0-243.9 9 0.7 84 16.4 48 7.5 51 5.5 39 0.9 15-1 14.3-1.8 26.6-6 16.5-6 12.3-6 35.3-22.8 12-2.7 12-0.3 12 1.6 12 3.9 15 7 23.6 13.3 14.2 6 16.2 4 9 1 9 0 9-1.1 12-2.8 36-11.3 24-6.4 18-3.6 21-2.7 33-1.4 48 1.7 3-0.7 6-3 9-2.4 21-2.9 159-2.9 27-1.4 21-1.9 21-3.4 21-4.8z"/>
<path fill="#00e4f8" fill-rule="evenodd" d="M1103.6 287.4l10.8-2.3 9 0.5 7 1.8 4.6 3 2.5 3 1.3 3 -0.4 6.2 -6 9.8 -6 7 -3 2.4 -6 1.8 -6-1.2 -9-4.8 -6.3-6.2 -2.8-6 -0.5-6 3.6-6.7 3-2.9zM757.9 299.4l11.5-1.5 9-0.1 9 0.8 12 2.4 21 7.8 42 19.5 15 4.5 9 1.3 12 0.4 30-2.6 15.1 0.5 5.9 2.1 4.6 3.9 3 6 1.4 7.2 0.3 16.8 -3.7 45 -4.7 75 -0.9 7.7 -2.4 10.3 -4.2 9 -5.4 6.9 -9.4 8.1 -38.6 22.5 -48 34.5 -22.4 12 -14.2 6 -17 6 -22.3 6 -23.1 5.2 -57 10.6 -37.3 5.2 -19.7 1.1 -18-0.5 -18-2.8 -11.2-3.8 -4.9-3 -5.4-6 -1.5-6 1.1-6 1.5-3 2.4-3 6-5 30-18.5 12-9 6-6.1 3-4.1 3.8-8.3 1.5-9 -0.7-6 -1.6-3.9 -4.1-5.1 -4-3 -6.4-3 -3.5-0.7 -6-0.3 -7.2 1 -7.8 2.7 -6.5 3.3 -8.1 6 -21.4 20.5 -9 7.6 -12 8.8 -18 10.2 -12 4.9 -12 3.3 -12 1.8 -12 0.2 -18-2.3 -21-6 -18-7.4 -21.3-11.6 -33-15 -20.7-7.9 -18-4.9 -12-2.1 -12-1 -51 0.5 -24-1.7 -21-3.7 -21-4.9 -57-17.7 -18-4.3 -9-1.4 -12-0.7 -12 0.4 -12 1.4 -9-0.5 0-91.3 6 0.3 9-0.9 3.2-0.6 5.8-2.5 3-2.7 3-4.6 1.8-8.2 -1.8-9.2 -3-5.6 -6-7.9 -12-11.3 -3-2 -6-1.5 0-37.8 6-0.8 6 0.3 37.4 3.8 31.6 4.3 36.8 7.7 68.2 17.4 18 2.8 15 0.5 15-1.1 15-2.1 36-7.4 18-4.9 39-12.5 4.1-1.7 4.9-3.6 9-1.7 12-0.4 12 1.2 15 2.9 24 6.5 18 3.9 18 2.2 15 0.2 12-1.3 15-3.3 60-19.4 24-6.1 12-2.2 21-2.1 24-0.4 18 0.6 30 2.4zM1339.3 302.4l18.1-0.1 32.8 3.1 33.2 6 9 3 6 3.3 0 29.8 -21 3.3 -6 1.6 -6 2.5 -6 3.9 -3 2.9 -3 4.5 -1.1 5.2 1 6 3 6 5.2 6 3.9 3.2 10.5 5.8 10.5 4.1 6 0.5 6-1.2 0 104.6 -45 2.9 -21-0.2 -18-1.1 -21-2.8 -24-4.4 -24-5.5 -21-5.7 -15-4.8 -12-4.7 -48-22.8 -15-6.4 -9-1.6 -9 0.6 -3.1-0.5 -14.9-12.2 -15.6-8.8 -8.9-6 -6.2-6 -5.3-8.7 -1.7-6.3 -0.6-6 0.6-9 1.7-8.8 3-8.6 6-10.5 3-3.6 6-3.8 9-1.7 21 0.8 15-0.7 17.4-2.1 15.6-3 47.8-12 18.3-6 47.9-18 15-4.2z"/>
<path fill="#53ffa4" fill-rule="evenodd" d="M630.9 323.4l18.5-2.4 18 0.4 72 9.2 18-3.1 18-0.3 12 1.5 9 2.2 18 7.1 15.2 9.4 13.4 12 12.5 15 12.3 18 8.3 15 5.8 15 2.2 12 -0.1 6 -1.1 6 -2.5 3.8 -9 1 -3 1.3 -12.6 11.9 -11.4 8.9 -12 7.4 -15 7 -15 5.4 -21 6.1 -18 3.7 -21 1.4 -30 9.1 -12 1.2 -15-1.3 -12-3 -27.5-9.9 -11.5-3.1 -12-0.8 -12 1.9 -9 3.5 -9 5.4 -36 29.4 -12 7.8 -12 6.7 -15 7.1 -12 4.2 -15 3.4 -15 1.4 -9-0.3 -12-1.4 -9-1.9 -10.9-3.3 -14.6-6 -22.5-11.8 -24-10.3 -39-15.4 -21-6.2 -12-2 -12-0.7 -18 0.4 -24 1.8 -18 0 -18-2.8 -14.3-4 -14.9-6 -11.9-6 -18.4-12 -9.7-9 -3.7-6 -2.3-6 -1.2-6 0.2-3 11.1-30 2.9-12 0.2-9 -2.5-24 1.4-6 3.1-3.1 3-0.5 6 1.3 6 2.9 6.7 5.4 3.9 6 5.5 15 2.8 6 8.1 8.8 9 7.2 12 7.2 12 5.2 12 2.8 9 0.1 6-1.1 6-2 12-7.3 24-23.9 15-12.1 17-8.9 16-5.5 34.8-6.5 22.2-3.2 24-2.4 27-1.3 39 1.6 24-1.5 18-2.1 15-3.1 15-4.3 15-5.6 33.3-14.1zM1241.5 368.4l13.9-1.7 18 0.5 18 3 12 3.8 14 6.4 43 22.5 42.9 19.5 24.1 12 11 6.2 0 32.3 -9 4.2 -21 5.7 -18 1.6 -15-0.9 -18-4.1 -42-13.7 -21-5.7 -27-5.5 -33-4.9 -12.3-6.2 -13.9-9 -6.7-6 -3.1-3.8 -3.2-5.2 -2-6 -0.9-6 0.8-6 2.2-6 3.1-4.6 4.1-4.4 4.9-3.8 14.9-8.2 8.1-3z"/>
<path fill="#a4ff53" fill-rule="evenodd" d="M625.1 353.4l12.3-2 15 0.4 9 1.6 24 7.3 18 2.9 15 0.3 18-0.9 4.1-0.6 7.9-2.8 12-1 15 1.3 15 4.3 12 5.8 9 6.5 6.9 6.9 6 9 5.5 12 3 12 0.1 9 -2.2 9 -4.6 9 -4.4 6 -28.3 16.3 -21 8.1 -12 3 -18 3.2 -15 5.5 -12 3.3 -15 1.2 -15.2-1.6 -14.8-3.3 -30-9.1 -9-1.7 -12 0 -9 1.9 -9 3.6 -9 5.6 -33 28 -12 8.1 -12 6.8 -15 6.8 -12 4 -12 2.6 -15 1.5 -15-0.6 -15-2.8 -12-4 -17.6-8.4 -19.8-12 -28.6-19 -35.7-20 -12.3-10 -3.6-5 -2.4-5.5 -0.8-3.5 0.8-6.2 3-7.6 6-9.9 5.7-6.3 3.8-3 4.9-3 6.8-3 8.8-1.9 15-0.2 15.8 2.1 8.2 2.1 6 2.7 3-0.5 24-9.7 24-12.1 15-5.2 21-4.3 51-4.3 30-5.3 12-4 27-14z"/>
<path fill="#f8f500" fill-rule="evenodd" d="M745.6 392.4l14.8-2 6 0.2 8.1 1.8 7.1 3 5.8 3.3 6 5.1 2.9 3.6 3.3 9 -0.7 9 -2.2 6 -3.3 5.6 -9 11.7 -3 1.3 -9 0.7 -12.7 4.7 -23.3 4.8 -15 2.2 -12 0.6 -18-1.5 -12-2.9 -14.8-6.2 -4-3 -2.2-3.6 -1.7-5.4 0.2-9 1.5-4.2 3-4.7 6-5.2 7.1-3.9 17.4-6 11.9-3 35.6-6.6 3-1.9zM511 407.4l18.4-0.9 15 2 9 2.7 9 4 6.9 4.2 5.1 4.4 5.1 7.6 1.6 9 -2 21 -1.6 6 -2.8 6 -8.7 12 -6.6 6.6 -9.9 8.4 -14.1 9.2 -18 8.2 -18 4.5 -15 0.9 -15-1.9 -9-2.9 -6-2.7 -9-5.7 -6-4.8 -7.3-7.8 -4-6 -3-6 -1.5-6 0-6 2.5-9 3.6-6 14.6-18 9.6-9 9.5-7.2 12-7.1 9-3.7 12-3.4z"/>
<path fill="#ff9400" fill-rule="evenodd" d="M503.6 428.4l10.8-1.3 12 0.7 9 2.9 5.5 3.7 5 6 3.4 9 0.4 9 -1.6 9 -3.7 8.1 -5.4 6.9 -10.3 9 -8.3 5.2 -9 4.1 -9.9 2.7 -8.1 0.8 -9-1 -8.3-2.8 -3.7-2.1 -5.3-3.9 -3.7-3.9 -3.5-5.1 -2.4-6 -0.1-9.1 3-8 6-9.3 11.7-12.6 6.3-4.5 6-3.2z"/>
<path fill="#ff3800" fill-rule="evenodd" d="M500.5 458.4l1.9-1.4 3 0.4 2.8 4 0.4 3 -1.3 6 -1.9 3 -3 1.6 -3-1.6 -2-6 1-6z"/>
<use href="#coast"/></g>
<rect class="f" x="58.4" y="113.4" width="1371.1" height="675.0"/>
<rect x="58.40" y="831.4" width="137.71" height="68.3" fill="#0000b6"/><rect x="195.51" y="831.4" width="137.71" height="68.3" fill="#0018ff"/><rect x="332.62" y="831.4" width="137.71" height="68.3" fill="#0084ff"/><rect x="469.73" y="831.4" width="137.71" height="68.3" fill="#00e4f8"/><rect x="606.84" y="831.4" width="137.71" height="68.3" fill="#53ffa4"/><rect x="743.95" y="831.4" width="137.71" height="68.3" fill="#a4ff53"/><rect x="881.06" y="831.4" width="137.71" height="68.3" fill="#f8f500"/><rect x="1018.17" y="831.4" width="137.71" height="68.3" fill="#ff9400"/><rect x="1155.28" y="831.4" width="137.71" height="68.3" fill="#ff3800"/><rect x="1292.39" y="831.4" width="137.71" height="68.3" fill="#b60000"/>
<rect class="f" x="58.4" y="831.4" width="1371.1" height="68.3"/>
<line class="tk" x1="58.4" x2="58.4" y1="899.7" y2="914.7"/><text class="k" x="58.4" y="960.3">0</text>
<line class="tk" x1="332.6" x2="332.6" y1="899.7" y2="914.7"/><text class="k" x="332.6" y="960.3">5</text>
<line class="tk" x1="606.8" x2="606.8" y1="899.7" y2="914.7"/><text class="k" x="606.8" y="960.3">10</text>
<line class="tk" x1="881.1" x2="881.1" y1="899.7" y2="914.7"/><text class="k" x="881.1" y="960.3">15</text>
<line class="tk" x1="1155.3" x2="1155.3" y1="899.7" y2="914.7"/><text class="k" x="1155.3" y="960.3">20</text>
<line class="tk" x1="1429.5" x2="1429.5" y1="899.7" y2="914.7"/><text class="k" x="1429.5" y="960.3">25</text>
</g>
</svg></body></html>
